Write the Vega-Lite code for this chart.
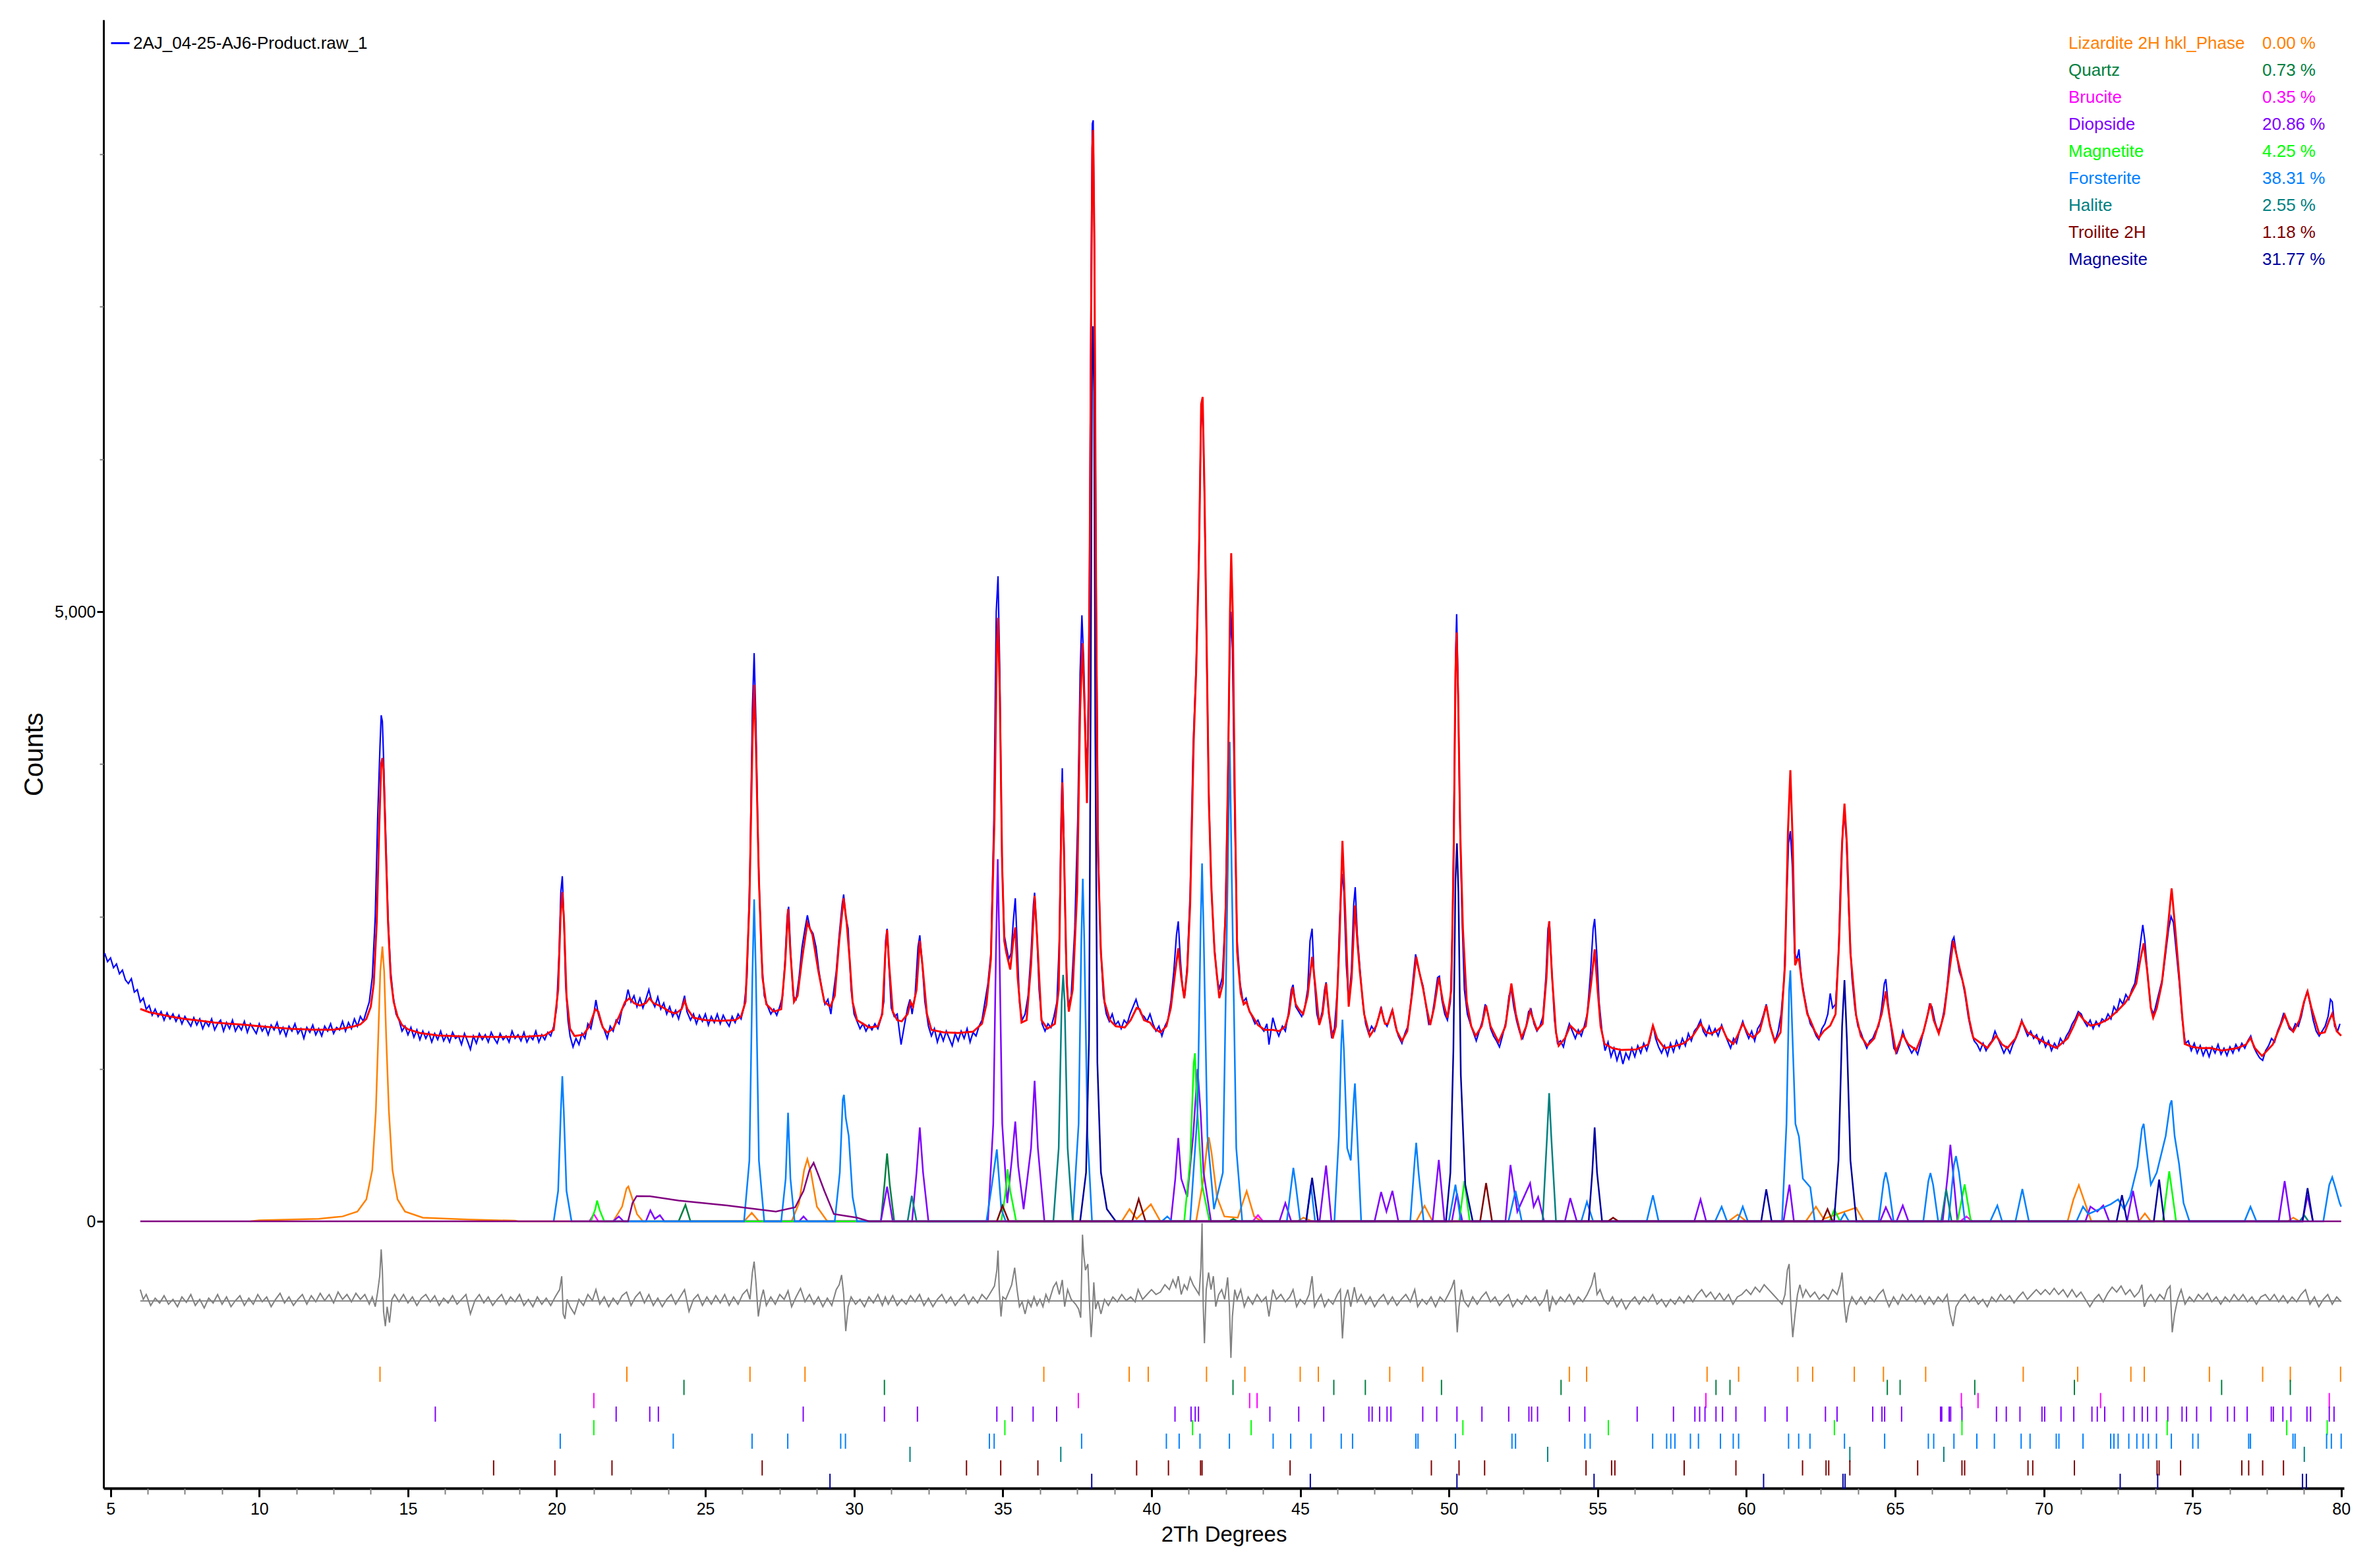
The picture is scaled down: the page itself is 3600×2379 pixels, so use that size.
{
"$schema":"https://vega.github.io/schema/vega-lite/v6.json",
"width":3399,"height":2228,
"autosize":{"type":"none"},
"padding":{"left":157,"top":30,"right":44,"bottom":121},
"background":"#ffffff",
"config":{"view":{"stroke":null},"font":"Liberation Sans, Arial, sans-serif",
"axis":{"labelFont":"Liberation Sans, Arial, sans-serif","titleFont":"Liberation Sans, Arial, sans-serif","labelColor":"#000000","titleColor":"#000000","titleFontWeight":"normal","grid":false},
"legend":{"labelFont":"Liberation Sans, Arial, sans-serif"}},
"datasets":{
"obs":[{"x":4.8,"y":2200},{"x":4.9,"y":2130},{"x":5,"y":2160},{"x":5.1,"y":2080},{"x":5.2,"y":2110},{"x":5.3,"y":2030},{"x":5.4,"y":2060},{"x":5.5,"y":1980},{"x":5.6,"y":1950},{"x":5.7,"y":1990},{"x":5.8,"y":1880},{"x":5.9,"y":1900},{"x":6,"y":1800},{"x":6.1,"y":1830},{"x":6.2,"y":1740},{"x":6.3,"y":1770},{"x":6.4,"y":1690},{"x":6.5,"y":1740},{"x":6.6,"y":1680},{"x":6.7,"y":1720},{"x":6.8,"y":1650},{"x":6.9,"y":1710},{"x":7,"y":1660},{"x":7.1,"y":1700},{"x":7.2,"y":1640},{"x":7.3,"y":1690},{"x":7.4,"y":1620},{"x":7.5,"y":1680},{"x":7.6,"y":1640},{"x":7.7,"y":1600},{"x":7.8,"y":1670},{"x":7.9,"y":1610},{"x":8,"y":1660},{"x":8.1,"y":1580},{"x":8.2,"y":1640},{"x":8.3,"y":1600},{"x":8.4,"y":1660},{"x":8.5,"y":1570},{"x":8.6,"y":1620},{"x":8.7,"y":1650},{"x":8.8,"y":1560},{"x":8.9,"y":1630},{"x":9,"y":1580},{"x":9.1,"y":1650},{"x":9.2,"y":1560},{"x":9.3,"y":1610},{"x":9.4,"y":1570},{"x":9.5,"y":1640},{"x":9.6,"y":1550},{"x":9.7,"y":1620},{"x":9.8,"y":1580},{"x":9.9,"y":1540},{"x":10,"y":1620},{"x":10.1,"y":1560},{"x":10.2,"y":1600},{"x":10.3,"y":1530},{"x":10.4,"y":1610},{"x":10.5,"y":1570},{"x":10.6,"y":1630},{"x":10.7,"y":1540},{"x":10.8,"y":1590},{"x":10.9,"y":1520},{"x":11,"y":1600},{"x":11.1,"y":1560},{"x":11.2,"y":1620},{"x":11.3,"y":1540},{"x":11.4,"y":1580},{"x":11.5,"y":1500},{"x":11.6,"y":1590},{"x":11.7,"y":1550},{"x":11.8,"y":1610},{"x":11.9,"y":1530},{"x":12,"y":1580},{"x":12.1,"y":1520},{"x":12.2,"y":1600},{"x":12.3,"y":1560},{"x":12.4,"y":1620},{"x":12.5,"y":1540},{"x":12.6,"y":1590},{"x":12.7,"y":1570},{"x":12.8,"y":1640},{"x":12.9,"y":1560},{"x":13,"y":1630},{"x":13.1,"y":1580},{"x":13.2,"y":1660},{"x":13.3,"y":1600},{"x":13.4,"y":1680},{"x":13.5,"y":1640},{"x":13.6,"y":1720},{"x":13.7,"y":1800},{"x":13.8,"y":2000},{"x":13.9,"y":2500},{"x":13.98,"y":3300},{"x":14.06,"y":3900},{"x":14.1,"y":4150},{"x":14.14,"y":4100},{"x":14.18,"y":3800},{"x":14.25,"y":3200},{"x":14.33,"y":2500},{"x":14.42,"y":2050},{"x":14.5,"y":1850},{"x":14.6,"y":1700},{"x":14.7,"y":1650},{"x":14.8,"y":1560},{"x":14.9,"y":1600},{"x":15,"y":1530},{"x":15.1,"y":1590},{"x":15.2,"y":1510},{"x":15.3,"y":1570},{"x":15.4,"y":1490},{"x":15.5,"y":1560},{"x":15.6,"y":1500},{"x":15.7,"y":1550},{"x":15.8,"y":1470},{"x":15.9,"y":1540},{"x":16,"y":1490},{"x":16.1,"y":1560},{"x":16.2,"y":1480},{"x":16.3,"y":1530},{"x":16.4,"y":1470},{"x":16.5,"y":1550},{"x":16.6,"y":1500},{"x":16.7,"y":1520},{"x":16.8,"y":1450},{"x":16.9,"y":1540},{"x":17,"y":1480},{"x":17.1,"y":1410},{"x":17.2,"y":1520},{"x":17.3,"y":1460},{"x":17.4,"y":1540},{"x":17.5,"y":1490},{"x":17.6,"y":1530},{"x":17.7,"y":1470},{"x":17.8,"y":1550},{"x":17.9,"y":1500},{"x":18,"y":1460},{"x":18.1,"y":1540},{"x":18.2,"y":1490},{"x":18.3,"y":1520},{"x":18.4,"y":1470},{"x":18.5,"y":1560},{"x":18.6,"y":1500},{"x":18.7,"y":1530},{"x":18.8,"y":1480},{"x":18.9,"y":1550},{"x":19,"y":1470},{"x":19.1,"y":1520},{"x":19.2,"y":1490},{"x":19.3,"y":1560},{"x":19.4,"y":1470},{"x":19.5,"y":1530},{"x":19.6,"y":1490},{"x":19.7,"y":1550},{"x":19.8,"y":1520},{"x":19.9,"y":1600},{"x":20,"y":1750},{"x":20.08,"y":2200},{"x":20.14,"y":2700},{"x":20.19,"y":2830},{"x":20.24,"y":2500},{"x":20.3,"y":1950},{"x":20.38,"y":1650},{"x":20.45,"y":1520},{"x":20.55,"y":1430},{"x":20.65,"y":1500},{"x":20.75,"y":1450},{"x":20.85,"y":1540},{"x":20.95,"y":1500},{"x":21.05,"y":1620},{"x":21.15,"y":1580},{"x":21.25,"y":1700},{"x":21.32,"y":1816},{"x":21.4,"y":1700},{"x":21.5,"y":1620},{"x":21.6,"y":1570},{"x":21.7,"y":1500},{"x":21.8,"y":1600},{"x":21.9,"y":1560},{"x":22,"y":1650},{"x":22.1,"y":1620},{"x":22.2,"y":1740},{"x":22.3,"y":1780},{"x":22.4,"y":1900},{"x":22.5,"y":1800},{"x":22.6,"y":1850},{"x":22.7,"y":1760},{"x":22.8,"y":1830},{"x":22.9,"y":1750},{"x":23,"y":1820},{"x":23.1,"y":1900},{"x":23.18,"y":1820},{"x":23.3,"y":1760},{"x":23.4,"y":1840},{"x":23.5,"y":1740},{"x":23.6,"y":1790},{"x":23.7,"y":1700},{"x":23.8,"y":1760},{"x":23.9,"y":1680},{"x":24,"y":1730},{"x":24.1,"y":1660},{"x":24.2,"y":1750},{"x":24.3,"y":1850},{"x":24.38,"y":1720},{"x":24.5,"y":1650},{"x":24.6,"y":1700},{"x":24.7,"y":1620},{"x":24.8,"y":1690},{"x":24.9,"y":1640},{"x":25,"y":1700},{"x":25.1,"y":1610},{"x":25.2,"y":1680},{"x":25.3,"y":1630},{"x":25.4,"y":1700},{"x":25.5,"y":1620},{"x":25.6,"y":1690},{"x":25.7,"y":1640},{"x":25.8,"y":1600},{"x":25.9,"y":1680},{"x":26,"y":1630},{"x":26.1,"y":1700},{"x":26.2,"y":1660},{"x":26.3,"y":1760},{"x":26.4,"y":2000},{"x":26.5,"y":2900},{"x":26.58,"y":4200},{"x":26.64,"y":4660},{"x":26.7,"y":4100},{"x":26.78,"y":3000},{"x":26.88,"y":2200},{"x":26.98,"y":1850},{"x":27.1,"y":1760},{"x":27.2,"y":1700},{"x":27.3,"y":1740},{"x":27.4,"y":1690},{"x":27.5,"y":1760},{"x":27.6,"y":1850},{"x":27.68,"y":2150},{"x":27.75,"y":2500},{"x":27.8,"y":2580},{"x":27.86,"y":2250},{"x":27.95,"y":1850},{"x":28.05,"y":1820},{"x":28.15,"y":2000},{"x":28.25,"y":2250},{"x":28.35,"y":2400},{"x":28.43,"y":2510},{"x":28.52,"y":2400},{"x":28.62,"y":2360},{"x":28.72,"y":2250},{"x":28.82,"y":2050},{"x":28.92,"y":1900},{"x":29.02,"y":1780},{"x":29.12,"y":1820},{"x":29.22,"y":1700},{"x":29.3,"y":1860},{"x":29.4,"y":2050},{"x":29.5,"y":2350},{"x":29.6,"y":2600},{"x":29.65,"y":2680},{"x":29.72,"y":2500},{"x":29.8,"y":2400},{"x":29.9,"y":1900},{"x":30,"y":1700},{"x":30.1,"y":1640},{"x":30.2,"y":1580},{"x":30.3,"y":1620},{"x":30.4,"y":1560},{"x":30.5,"y":1610},{"x":30.6,"y":1570},{"x":30.7,"y":1620},{"x":30.8,"y":1580},{"x":30.9,"y":1660},{"x":31,"y":1800},{"x":31.06,"y":2300},{"x":31.11,"y":2400},{"x":31.16,"y":2150},{"x":31.25,"y":1750},{"x":31.35,"y":1680},{"x":31.45,"y":1700},{"x":31.58,"y":1450},{"x":31.7,"y":1620},{"x":31.8,"y":1750},{"x":31.88,"y":1820},{"x":31.95,"y":1700},{"x":32.05,"y":1850},{"x":32.15,"y":2250},{"x":32.21,"y":2345},{"x":32.28,"y":2150},{"x":32.38,"y":1800},{"x":32.5,"y":1600},{"x":32.6,"y":1520},{"x":32.7,"y":1580},{"x":32.8,"y":1470},{"x":32.9,"y":1550},{"x":33,"y":1480},{"x":33.1,"y":1560},{"x":33.2,"y":1500},{"x":33.3,"y":1440},{"x":33.4,"y":1540},{"x":33.5,"y":1480},{"x":33.6,"y":1560},{"x":33.7,"y":1500},{"x":33.8,"y":1580},{"x":33.9,"y":1470},{"x":34,"y":1550},{"x":34.1,"y":1520},{"x":34.2,"y":1600},{"x":34.3,"y":1650},{"x":34.4,"y":1800},{"x":34.5,"y":1950},{"x":34.6,"y":2200},{"x":34.7,"y":3300},{"x":34.78,"y":5000},{"x":34.84,"y":5290},{"x":34.9,"y":4500},{"x":34.97,"y":3000},{"x":35.05,"y":2350},{"x":35.12,"y":2250},{"x":35.2,"y":2150},{"x":35.28,"y":2200},{"x":35.35,"y":2450},{"x":35.42,"y":2650},{"x":35.48,"y":2300},{"x":35.56,"y":1800},{"x":35.65,"y":1650},{"x":35.75,"y":1700},{"x":35.85,"y":1850},{"x":35.95,"y":2200},{"x":36.03,"y":2600},{"x":36.07,"y":2695},{"x":36.14,"y":2400},{"x":36.22,"y":1900},{"x":36.32,"y":1620},{"x":36.42,"y":1560},{"x":36.52,"y":1620},{"x":36.62,"y":1590},{"x":36.72,"y":1680},{"x":36.82,"y":1800},{"x":36.9,"y":2300},{"x":36.96,"y":3300},{"x":37,"y":3716},{"x":37.05,"y":3200},{"x":37.12,"y":2200},{"x":37.2,"y":1760},{"x":37.3,"y":1850},{"x":37.42,"y":2400},{"x":37.52,"y":3300},{"x":37.6,"y":4500},{"x":37.66,"y":4970},{"x":37.72,"y":4600},{"x":37.8,"y":3800},{"x":37.86,"y":3900},{"x":37.92,"y":5500},{"x":37.97,"y":7800},{"x":38.01,"y":9000},{"x":38.04,"y":9030},{"x":38.08,"y":8000},{"x":38.13,"y":5500},{"x":38.2,"y":3200},{"x":38.28,"y":2300},{"x":38.38,"y":1850},{"x":38.48,"y":1700},{"x":38.58,"y":1640},{"x":38.68,"y":1700},{"x":38.78,"y":1610},{"x":38.88,"y":1640},{"x":38.98,"y":1580},{"x":39.08,"y":1650},{"x":39.18,"y":1620},{"x":39.28,"y":1700},{"x":39.38,"y":1760},{"x":39.48,"y":1820},{"x":39.55,"y":1760},{"x":39.65,"y":1700},{"x":39.75,"y":1680},{"x":39.85,"y":1640},{"x":39.95,"y":1700},{"x":40.05,"y":1620},{"x":40.15,"y":1560},{"x":40.25,"y":1600},{"x":40.35,"y":1520},{"x":40.45,"y":1600},{"x":40.55,"y":1650},{"x":40.65,"y":1800},{"x":40.75,"y":2050},{"x":40.84,"y":2350},{"x":40.9,"y":2460},{"x":40.97,"y":2150},{"x":41.05,"y":1900},{"x":41.12,"y":1850},{"x":41.2,"y":2100},{"x":41.3,"y":2700},{"x":41.4,"y":3900},{"x":41.5,"y":4550},{"x":41.58,"y":5300},{"x":41.66,"y":6500},{"x":41.71,"y":6740},{"x":41.77,"y":6100},{"x":41.84,"y":4900},{"x":41.92,"y":3600},{"x":42,"y":2800},{"x":42.1,"y":2300},{"x":42.2,"y":2000},{"x":42.28,"y":1900},{"x":42.38,"y":2000},{"x":42.48,"y":2500},{"x":42.56,"y":3500},{"x":42.62,"y":4500},{"x":42.67,"y":5000},{"x":42.72,"y":4700},{"x":42.8,"y":3300},{"x":42.88,"y":2300},{"x":42.98,"y":1950},{"x":43.08,"y":1800},{"x":43.18,"y":1830},{"x":43.28,"y":1730},{"x":43.38,"y":1680},{"x":43.48,"y":1620},{"x":43.58,"y":1650},{"x":43.68,"y":1590},{"x":43.78,"y":1560},{"x":43.88,"y":1620},{"x":43.95,"y":1450},{"x":44.08,"y":1670},{"x":44.18,"y":1580},{"x":44.28,"y":1520},{"x":44.4,"y":1600},{"x":44.5,"y":1560},{"x":44.6,"y":1700},{"x":44.7,"y":1900},{"x":44.76,"y":1940},{"x":44.85,"y":1760},{"x":44.95,"y":1720},{"x":45.05,"y":1680},{"x":45.15,"y":1750},{"x":45.25,"y":1900},{"x":45.33,"y":2300},{"x":45.4,"y":2400},{"x":45.47,"y":2000},{"x":45.56,"y":1700},{"x":45.64,"y":1620},{"x":45.74,"y":1720},{"x":45.82,"y":1900},{"x":45.87,"y":1960},{"x":45.95,"y":1720},{"x":46.05,"y":1520},{"x":46.15,"y":1580},{"x":46.25,"y":1900},{"x":46.33,"y":2500},{"x":46.4,"y":2850},{"x":46.47,"y":2700},{"x":46.55,"y":2100},{"x":46.63,"y":1800},{"x":46.72,"y":2050},{"x":46.8,"y":2600},{"x":46.85,"y":2740},{"x":46.92,"y":2350},{"x":47,"y":2100},{"x":47.1,"y":1800},{"x":47.2,"y":1620},{"x":47.3,"y":1540},{"x":47.4,"y":1600},{"x":47.5,"y":1560},{"x":47.6,"y":1640},{"x":47.72,"y":1760},{"x":47.82,"y":1640},{"x":47.92,"y":1600},{"x":48.02,"y":1680},{"x":48.1,"y":1740},{"x":48.2,"y":1600},{"x":48.3,"y":1520},{"x":48.42,"y":1460},{"x":48.52,"y":1540},{"x":48.62,"y":1600},{"x":48.72,"y":1800},{"x":48.8,"y":2000},{"x":48.88,"y":2190},{"x":48.95,"y":2100},{"x":49.05,"y":2000},{"x":49.13,"y":1930},{"x":49.22,"y":1780},{"x":49.32,"y":1620},{"x":49.42,"y":1660},{"x":49.52,"y":1820},{"x":49.62,"y":2000},{"x":49.68,"y":2010},{"x":49.76,"y":1820},{"x":49.86,"y":1700},{"x":49.95,"y":1650},{"x":50.05,"y":1800},{"x":50.12,"y":2400},{"x":50.18,"y":3600},{"x":50.23,"y":4700},{"x":50.26,"y":4980},{"x":50.3,"y":4500},{"x":50.36,"y":3400},{"x":50.44,"y":2500},{"x":50.52,"y":1900},{"x":50.62,"y":1700},{"x":50.72,"y":1620},{"x":50.82,"y":1550},{"x":50.92,"y":1480},{"x":51.02,"y":1560},{"x":51.12,"y":1640},{"x":51.22,"y":1780},{"x":51.3,"y":1720},{"x":51.4,"y":1580},{"x":51.5,"y":1520},{"x":51.6,"y":1480},{"x":51.7,"y":1430},{"x":51.8,"y":1520},{"x":51.92,"y":1640},{"x":52.02,"y":1850},{"x":52.1,"y":1900},{"x":52.18,"y":1760},{"x":52.28,"y":1640},{"x":52.38,"y":1550},{"x":52.48,"y":1500},{"x":52.58,"y":1580},{"x":52.68,"y":1720},{"x":52.76,"y":1740},{"x":52.86,"y":1620},{"x":52.96,"y":1560},{"x":53.06,"y":1600},{"x":53.16,"y":1680},{"x":53.26,"y":2000},{"x":53.33,"y":2400},{"x":53.38,"y":2460},{"x":53.45,"y":2100},{"x":53.55,"y":1650},{"x":53.65,"y":1460},{"x":53.75,"y":1480},{"x":53.85,"y":1430},{"x":53.95,"y":1540},{"x":54.05,"y":1620},{"x":54.15,"y":1560},{"x":54.25,"y":1500},{"x":54.35,"y":1570},{"x":54.45,"y":1520},{"x":54.55,"y":1600},{"x":54.65,"y":1700},{"x":54.75,"y":2000},{"x":54.85,"y":2400},{"x":54.9,"y":2480},{"x":54.97,"y":2200},{"x":55.05,"y":1800},{"x":55.15,"y":1550},{"x":55.25,"y":1400},{"x":55.35,"y":1470},{"x":55.45,"y":1350},{"x":55.55,"y":1420},{"x":55.65,"y":1320},{"x":55.75,"y":1400},{"x":55.85,"y":1290},{"x":55.95,"y":1380},{"x":56.05,"y":1330},{"x":56.15,"y":1420},{"x":56.25,"y":1350},{"x":56.35,"y":1440},{"x":56.45,"y":1380},{"x":56.55,"y":1460},{"x":56.65,"y":1400},{"x":56.75,"y":1480},{"x":56.86,"y":1610},{"x":56.95,"y":1500},{"x":57.05,"y":1430},{"x":57.15,"y":1380},{"x":57.25,"y":1440},{"x":57.35,"y":1360},{"x":57.45,"y":1460},{"x":57.55,"y":1390},{"x":57.65,"y":1480},{"x":57.75,"y":1420},{"x":57.85,"y":1500},{"x":57.95,"y":1440},{"x":58.05,"y":1540},{"x":58.15,"y":1480},{"x":58.25,"y":1560},{"x":58.35,"y":1590},{"x":58.46,"y":1650},{"x":58.55,"y":1560},{"x":58.65,"y":1520},{"x":58.75,"y":1600},{"x":58.85,"y":1530},{"x":58.95,"y":1580},{"x":59.05,"y":1520},{"x":59.17,"y":1610},{"x":59.27,"y":1540},{"x":59.37,"y":1480},{"x":59.47,"y":1420},{"x":59.57,"y":1500},{"x":59.67,"y":1460},{"x":59.77,"y":1560},{"x":59.88,"y":1640},{"x":59.98,"y":1560},{"x":60.08,"y":1500},{"x":60.18,"y":1560},{"x":60.28,"y":1480},{"x":60.38,"y":1580},{"x":60.48,"y":1620},{"x":60.58,"y":1700},{"x":60.67,"y":1780},{"x":60.77,"y":1640},{"x":60.87,"y":1540},{"x":60.97,"y":1480},{"x":61.07,"y":1560},{"x":61.17,"y":1700},{"x":61.27,"y":2000},{"x":61.35,"y":2600},{"x":61.42,"y":3100},{"x":61.48,"y":3200},{"x":61.55,"y":2900},{"x":61.62,"y":2200},{"x":61.7,"y":2150},{"x":61.77,"y":2230},{"x":61.85,"y":2000},{"x":61.95,"y":1850},{"x":62.05,"y":1720},{"x":62.15,"y":1620},{"x":62.25,"y":1580},{"x":62.35,"y":1520},{"x":62.44,"y":1490},{"x":62.54,"y":1580},{"x":62.64,"y":1620},{"x":62.74,"y":1700},{"x":62.82,"y":1870},{"x":62.9,"y":1750},{"x":63,"y":1780},{"x":63.1,"y":2200},{"x":63.18,"y":2900},{"x":63.25,"y":3250},{"x":63.3,"y":3330},{"x":63.36,"y":3150},{"x":63.45,"y":2500},{"x":63.55,"y":2000},{"x":63.65,"y":1750},{"x":63.75,"y":1600},{"x":63.85,"y":1550},{"x":63.95,"y":1480},{"x":64.05,"y":1420},{"x":64.15,"y":1480},{"x":64.25,"y":1500},{"x":64.35,"y":1560},{"x":64.45,"y":1600},{"x":64.55,"y":1750},{"x":64.64,"y":1950},{"x":64.69,"y":1986},{"x":64.76,"y":1800},{"x":64.86,"y":1600},{"x":64.96,"y":1420},{"x":65.06,"y":1380},{"x":65.16,"y":1450},{"x":65.26,"y":1560},{"x":65.36,"y":1480},{"x":65.46,"y":1430},{"x":65.56,"y":1380},{"x":65.66,"y":1420},{"x":65.76,"y":1370},{"x":65.86,"y":1460},{"x":65.96,"y":1560},{"x":66.06,"y":1650},{"x":66.16,"y":1780},{"x":66.24,"y":1760},{"x":66.34,"y":1640},{"x":66.44,"y":1560},{"x":66.54,"y":1600},{"x":66.64,"y":1720},{"x":66.74,"y":1900},{"x":66.84,"y":2150},{"x":66.92,"y":2300},{"x":66.98,"y":2330},{"x":67.06,"y":2200},{"x":67.16,"y":2050},{"x":67.26,"y":1980},{"x":67.36,"y":1850},{"x":67.46,"y":1680},{"x":67.56,"y":1560},{"x":67.66,"y":1480},{"x":67.76,"y":1450},{"x":67.86,"y":1400},{"x":67.96,"y":1460},{"x":68.06,"y":1400},{"x":68.16,"y":1450},{"x":68.26,"y":1480},{"x":68.36,"y":1560},{"x":68.46,"y":1500},{"x":68.56,"y":1440},{"x":68.66,"y":1380},{"x":68.76,"y":1430},{"x":68.86,"y":1380},{"x":68.96,"y":1450},{"x":69.06,"y":1500},{"x":69.16,"y":1560},{"x":69.26,"y":1650},{"x":69.36,"y":1580},{"x":69.46,"y":1520},{"x":69.56,"y":1560},{"x":69.66,"y":1500},{"x":69.76,"y":1530},{"x":69.86,"y":1460},{"x":69.96,"y":1510},{"x":70.06,"y":1430},{"x":70.16,"y":1480},{"x":70.26,"y":1400},{"x":70.36,"y":1460},{"x":70.46,"y":1420},{"x":70.56,"y":1500},{"x":70.66,"y":1460},{"x":70.76,"y":1520},{"x":70.86,"y":1560},{"x":70.96,"y":1620},{"x":71.06,"y":1660},{"x":71.16,"y":1720},{"x":71.26,"y":1700},{"x":71.36,"y":1640},{"x":71.46,"y":1600},{"x":71.56,"y":1650},{"x":71.66,"y":1580},{"x":71.76,"y":1640},{"x":71.86,"y":1600},{"x":71.96,"y":1660},{"x":72.06,"y":1640},{"x":72.16,"y":1700},{"x":72.26,"y":1660},{"x":72.36,"y":1760},{"x":72.46,"y":1720},{"x":72.56,"y":1820},{"x":72.66,"y":1780},{"x":72.76,"y":1860},{"x":72.86,"y":1820},{"x":72.96,"y":1900},{"x":73.06,"y":1950},{"x":73.16,"y":2100},{"x":73.26,"y":2300},{"x":73.33,"y":2430},{"x":73.4,"y":2300},{"x":73.5,"y":2000},{"x":73.6,"y":1750},{"x":73.7,"y":1700},{"x":73.8,"y":1800},{"x":73.9,"y":1900},{"x":74,"y":2000},{"x":74.1,"y":2200},{"x":74.2,"y":2400},{"x":74.28,"y":2500},{"x":74.36,"y":2450},{"x":74.46,"y":2200},{"x":74.56,"y":1950},{"x":74.66,"y":1650},{"x":74.76,"y":1460},{"x":74.86,"y":1480},{"x":74.96,"y":1400},{"x":75.06,"y":1460},{"x":75.16,"y":1380},{"x":75.26,"y":1440},{"x":75.36,"y":1360},{"x":75.46,"y":1420},{"x":75.56,"y":1350},{"x":75.66,"y":1430},{"x":75.76,"y":1380},{"x":75.86,"y":1450},{"x":75.96,"y":1370},{"x":76.06,"y":1420},{"x":76.16,"y":1360},{"x":76.26,"y":1430},{"x":76.36,"y":1380},{"x":76.46,"y":1450},{"x":76.56,"y":1400},{"x":76.66,"y":1460},{"x":76.76,"y":1420},{"x":76.86,"y":1480},{"x":76.96,"y":1520},{"x":77.06,"y":1430},{"x":77.16,"y":1380},{"x":77.26,"y":1340},{"x":77.36,"y":1320},{"x":77.46,"y":1400},{"x":77.56,"y":1440},{"x":77.66,"y":1500},{"x":77.76,"y":1470},{"x":77.86,"y":1560},{"x":77.96,"y":1620},{"x":78.06,"y":1700},{"x":78.16,"y":1650},{"x":78.26,"y":1580},{"x":78.36,"y":1560},{"x":78.46,"y":1620},{"x":78.56,"y":1600},{"x":78.66,"y":1680},{"x":78.76,"y":1800},{"x":78.86,"y":1890},{"x":78.96,"y":1780},{"x":79.06,"y":1650},{"x":79.16,"y":1560},{"x":79.26,"y":1520},{"x":79.36,"y":1560},{"x":79.46,"y":1600},{"x":79.56,"y":1680},{"x":79.64,"y":1820},{"x":79.7,"y":1800},{"x":79.78,"y":1600},{"x":79.88,"y":1560},{"x":79.96,"y":1620}],
"calc":[{"x":6,"y":1742},{"x":6.3,"y":1715},{"x":6.6,"y":1700},{"x":7,"y":1680},{"x":7.5,"y":1660},{"x":7.86,"y":1650},{"x":8.5,"y":1630},{"x":9,"y":1620},{"x":9.5,"y":1612},{"x":10,"y":1600},{"x":10.5,"y":1590},{"x":11.1,"y":1578},{"x":11.8,"y":1572},{"x":12.5,"y":1572},{"x":12.9,"y":1585},{"x":13.2,"y":1600},{"x":13.4,"y":1615},{"x":13.6,"y":1660},{"x":13.75,"y":1760},{"x":13.85,"y":1950},{"x":13.95,"y":2450},{"x":14.03,"y":3200},{"x":14.1,"y":3750},{"x":14.14,"y":3800},{"x":14.18,"y":3700},{"x":14.25,"y":3100},{"x":14.33,"y":2450},{"x":14.42,"y":2000},{"x":14.52,"y":1800},{"x":14.65,"y":1680},{"x":14.8,"y":1610},{"x":15,"y":1575},{"x":15.4,"y":1545},{"x":16,"y":1525},{"x":17,"y":1515},{"x":18,"y":1512},{"x":19,"y":1515},{"x":19.6,"y":1525},{"x":19.9,"y":1570},{"x":20.05,"y":1900},{"x":20.13,"y":2500},{"x":20.19,"y":2700},{"x":20.25,"y":2450},{"x":20.33,"y":1850},{"x":20.45,"y":1580},{"x":20.6,"y":1520},{"x":20.9,"y":1530},{"x":21.1,"y":1600},{"x":21.3,"y":1740},{"x":21.4,"y":1720},{"x":21.55,"y":1590},{"x":21.7,"y":1548},{"x":21.9,"y":1580},{"x":22.1,"y":1680},{"x":22.3,"y":1800},{"x":22.45,"y":1830},{"x":22.6,"y":1790},{"x":22.8,"y":1770},{"x":23,"y":1790},{"x":23.12,"y":1830},{"x":23.25,"y":1790},{"x":23.45,"y":1770},{"x":23.6,"y":1750},{"x":23.8,"y":1720},{"x":24,"y":1705},{"x":24.2,"y":1740},{"x":24.3,"y":1810},{"x":24.4,"y":1740},{"x":24.6,"y":1670},{"x":25,"y":1650},{"x":25.5,"y":1645},{"x":26,"y":1650},{"x":26.2,"y":1680},{"x":26.35,"y":1800},{"x":26.48,"y":2600},{"x":26.58,"y":3900},{"x":26.64,"y":4400},{"x":26.7,"y":3900},{"x":26.8,"y":2800},{"x":26.92,"y":2000},{"x":27.05,"y":1780},{"x":27.3,"y":1720},{"x":27.55,"y":1740},{"x":27.68,"y":2100},{"x":27.78,"y":2560},{"x":27.86,"y":2200},{"x":27.98,"y":1800},{"x":28.1,"y":1850},{"x":28.25,"y":2150},{"x":28.43,"y":2450},{"x":28.6,"y":2350},{"x":28.8,"y":2050},{"x":29,"y":1800},{"x":29.2,"y":1760},{"x":29.35,"y":1850},{"x":29.5,"y":2300},{"x":29.65,"y":2650},{"x":29.75,"y":2450},{"x":29.85,"y":2150},{"x":29.95,"y":1800},{"x":30.1,"y":1650},{"x":30.5,"y":1590},{"x":30.8,"y":1600},{"x":30.95,"y":1700},{"x":31.05,"y":2200},{"x":31.11,"y":2390},{"x":31.18,"y":2100},{"x":31.3,"y":1720},{"x":31.45,"y":1650},{"x":31.6,"y":1640},{"x":31.8,"y":1700},{"x":31.9,"y":1800},{"x":31.98,"y":1760},{"x":32.1,"y":1900},{"x":32.21,"y":2300},{"x":32.3,"y":2100},{"x":32.45,"y":1700},{"x":32.6,"y":1570},{"x":33,"y":1550},{"x":33.5,"y":1545},{"x":34,"y":1555},{"x":34.3,"y":1620},{"x":34.45,"y":1780},{"x":34.6,"y":2150},{"x":34.72,"y":3300},{"x":34.8,"y":4700},{"x":34.84,"y":4950},{"x":34.9,"y":4300},{"x":34.98,"y":2900},{"x":35.05,"y":2300},{"x":35.12,"y":2200},{"x":35.25,"y":2065},{"x":35.35,"y":2300},{"x":35.42,"y":2410},{"x":35.5,"y":2000},{"x":35.63,"y":1630},{"x":35.8,"y":1650},{"x":35.95,"y":2100},{"x":36.07,"y":2670},{"x":36.16,"y":2300},{"x":36.3,"y":1650},{"x":36.5,"y":1580},{"x":36.75,"y":1620},{"x":36.88,"y":1900},{"x":36.95,"y":3000},{"x":37,"y":3600},{"x":37.06,"y":3000},{"x":37.15,"y":1950},{"x":37.22,"y":1720},{"x":37.35,"y":1900},{"x":37.5,"y":2700},{"x":37.6,"y":4200},{"x":37.68,"y":4740},{"x":37.75,"y":4200},{"x":37.83,"y":3430},{"x":37.9,"y":4500},{"x":37.96,"y":7000},{"x":38.01,"y":8800},{"x":38.04,"y":8950},{"x":38.08,"y":8000},{"x":38.14,"y":5000},{"x":38.2,"y":3000},{"x":38.3,"y":2200},{"x":38.42,"y":1800},{"x":38.6,"y":1650},{"x":38.8,"y":1600},{"x":39.1,"y":1590},{"x":39.3,"y":1650},{"x":39.5,"y":1750},{"x":39.6,"y":1740},{"x":39.75,"y":1650},{"x":39.95,"y":1630},{"x":40.1,"y":1580},{"x":40.3,"y":1550},{"x":40.5,"y":1600},{"x":40.65,"y":1750},{"x":40.8,"y":2050},{"x":40.9,"y":2240},{"x":41,"y":2000},{"x":41.1,"y":1830},{"x":41.2,"y":2050},{"x":41.3,"y":2600},{"x":41.42,"y":3950},{"x":41.5,"y":4500},{"x":41.6,"y":5500},{"x":41.67,"y":6700},{"x":41.72,"y":6760},{"x":41.78,"y":6000},{"x":41.85,"y":4800},{"x":41.93,"y":3430},{"x":42.02,"y":2700},{"x":42.12,"y":2210},{"x":42.28,"y":1830},{"x":42.4,"y":1950},{"x":42.5,"y":2600},{"x":42.58,"y":3800},{"x":42.64,"y":5000},{"x":42.68,"y":5480},{"x":42.73,"y":5000},{"x":42.8,"y":3500},{"x":42.88,"y":2210},{"x":43,"y":1870},{"x":43.1,"y":1780},{"x":43.19,"y":1800},{"x":43.3,"y":1720},{"x":43.58,"y":1610},{"x":43.8,"y":1570},{"x":44.08,"y":1570},{"x":44.3,"y":1560},{"x":44.5,"y":1600},{"x":44.62,"y":1700},{"x":44.74,"y":1920},{"x":44.85,"y":1780},{"x":44.95,"y":1740},{"x":45.1,"y":1700},{"x":45.25,"y":1850},{"x":45.4,"y":2170},{"x":45.5,"y":1950},{"x":45.64,"y":1610},{"x":45.75,"y":1700},{"x":45.87,"y":1950},{"x":45.97,"y":1700},{"x":46.09,"y":1500},{"x":46.2,"y":1600},{"x":46.32,"y":2300},{"x":46.42,"y":3120},{"x":46.52,"y":2500},{"x":46.63,"y":1760},{"x":46.73,"y":2000},{"x":46.84,"y":2590},{"x":46.92,"y":2300},{"x":47,"y":2060},{"x":47.15,"y":1700},{"x":47.34,"y":1520},{"x":47.55,"y":1600},{"x":47.72,"y":1740},{"x":47.85,"y":1620},{"x":47.95,"y":1620},{"x":48.1,"y":1730},{"x":48.25,"y":1560},{"x":48.42,"y":1480},{"x":48.6,"y":1560},{"x":48.78,"y":1900},{"x":48.9,"y":2170},{"x":49,"y":2050},{"x":49.13,"y":1910},{"x":49.25,"y":1750},{"x":49.37,"y":1610},{"x":49.5,"y":1750},{"x":49.66,"y":2000},{"x":49.8,"y":1800},{"x":49.95,"y":1670},{"x":50.08,"y":1900},{"x":50.16,"y":3000},{"x":50.22,"y":4500},{"x":50.26,"y":4830},{"x":50.31,"y":4300},{"x":50.38,"y":3200},{"x":50.47,"y":2400},{"x":50.6,"y":1800},{"x":50.75,"y":1600},{"x":50.9,"y":1520},{"x":51.1,"y":1600},{"x":51.25,"y":1770},{"x":51.4,"y":1600},{"x":51.67,"y":1470},{"x":51.9,"y":1600},{"x":52.1,"y":1950},{"x":52.25,"y":1700},{"x":52.44,"y":1505},{"x":52.6,"y":1600},{"x":52.73,"y":1730},{"x":52.96,"y":1570},{"x":53.15,"y":1620},{"x":53.28,"y":2000},{"x":53.37,"y":2460},{"x":53.47,"y":2000},{"x":53.6,"y":1550},{"x":53.69,"y":1440},{"x":53.9,"y":1500},{"x":54.08,"y":1605},{"x":54.36,"y":1540},{"x":54.6,"y":1600},{"x":54.78,"y":1950},{"x":54.9,"y":2230},{"x":55,"y":1900},{"x":55.1,"y":1600},{"x":55.23,"y":1455},{"x":55.5,"y":1420},{"x":55.81,"y":1405},{"x":56.3,"y":1410},{"x":56.7,"y":1450},{"x":56.86,"y":1605},{"x":57,"y":1500},{"x":57.25,"y":1420},{"x":57.63,"y":1440},{"x":57.9,"y":1460},{"x":58.2,"y":1520},{"x":58.46,"y":1620},{"x":58.65,"y":1550},{"x":58.79,"y":1540},{"x":59,"y":1560},{"x":59.17,"y":1595},{"x":59.35,"y":1500},{"x":59.56,"y":1455},{"x":59.7,"y":1520},{"x":59.88,"y":1622},{"x":60.05,"y":1540},{"x":60.23,"y":1505},{"x":60.45,"y":1560},{"x":60.67,"y":1770},{"x":60.8,"y":1600},{"x":60.96,"y":1472},{"x":61.15,"y":1550},{"x":61.3,"y":2100},{"x":61.4,"y":3200},{"x":61.48,"y":3700},{"x":61.56,"y":3100},{"x":61.64,"y":2100},{"x":61.72,"y":2150},{"x":61.77,"y":2150},{"x":61.9,"y":1900},{"x":62.05,"y":1700},{"x":62.15,"y":1650},{"x":62.3,"y":1560},{"x":62.44,"y":1505},{"x":62.6,"y":1560},{"x":62.82,"y":1605},{"x":63,"y":1700},{"x":63.12,"y":2300},{"x":63.22,"y":3100},{"x":63.3,"y":3425},{"x":63.38,"y":3100},{"x":63.5,"y":2200},{"x":63.69,"y":1690},{"x":63.85,"y":1520},{"x":64.07,"y":1440},{"x":64.3,"y":1500},{"x":64.55,"y":1700},{"x":64.69,"y":1886},{"x":64.8,"y":1700},{"x":65.03,"y":1390},{"x":65.26,"y":1530},{"x":65.45,"y":1450},{"x":65.71,"y":1405},{"x":65.95,"y":1550},{"x":66.19,"y":1787},{"x":66.3,"y":1650},{"x":66.47,"y":1540},{"x":66.65,"y":1700},{"x":66.8,"y":2000},{"x":66.96,"y":2300},{"x":67.1,"y":2150},{"x":67.34,"y":1900},{"x":67.5,"y":1650},{"x":67.63,"y":1505},{"x":68.11,"y":1422},{"x":68.4,"y":1522},{"x":68.6,"y":1450},{"x":68.78,"y":1422},{"x":69.05,"y":1500},{"x":69.26,"y":1638},{"x":69.45,"y":1550},{"x":69.65,"y":1520},{"x":70,"y":1470},{"x":70.42,"y":1422},{"x":70.8,"y":1500},{"x":71,"y":1600},{"x":71.18,"y":1704},{"x":71.35,"y":1650},{"x":71.57,"y":1605},{"x":71.85,"y":1620},{"x":72.15,"y":1655},{"x":72.45,"y":1720},{"x":72.72,"y":1787},{"x":72.9,"y":1850},{"x":73.11,"y":1950},{"x":73.25,"y":2150},{"x":73.36,"y":2280},{"x":73.48,"y":2050},{"x":73.6,"y":1750},{"x":73.68,"y":1670},{"x":73.8,"y":1750},{"x":73.97,"y":1950},{"x":74.15,"y":2350},{"x":74.3,"y":2730},{"x":74.42,"y":2400},{"x":74.55,"y":2020},{"x":74.65,"y":1700},{"x":74.74,"y":1455},{"x":75,"y":1430},{"x":75.3,"y":1420},{"x":75.6,"y":1422},{"x":76,"y":1400},{"x":76.5,"y":1420},{"x":76.8,"y":1450},{"x":76.95,"y":1505},{"x":77.1,"y":1420},{"x":77.34,"y":1356},{"x":77.7,"y":1450},{"x":77.95,"y":1600},{"x":78.1,"y":1694},{"x":78.25,"y":1600},{"x":78.39,"y":1555},{"x":78.6,"y":1650},{"x":78.75,"y":1800},{"x":78.87,"y":1886},{"x":79,"y":1750},{"x":79.26,"y":1540},{"x":79.45,"y":1550},{"x":79.6,"y":1650},{"x":79.7,"y":1704},{"x":79.85,"y":1560},{"x":80,"y":1522}],
"diff":[{"x":6,"y":-560},{"x":6.1,"y":-640},{"x":6.2,"y":-600},{"x":6.35,"y":-690},{"x":6.5,"y":-630},{"x":6.65,"y":-670},{"x":6.8,"y":-610},{"x":6.95,"y":-680},{"x":7.1,"y":-640},{"x":7.25,"y":-700},{"x":7.4,"y":-620},{"x":7.55,"y":-665},{"x":7.7,"y":-600},{"x":7.85,"y":-690},{"x":8,"y":-640},{"x":8.15,"y":-710},{"x":8.3,"y":-630},{"x":8.45,"y":-670},{"x":8.6,"y":-600},{"x":8.75,"y":-680},{"x":8.9,"y":-620},{"x":9.05,"y":-700},{"x":9.2,"y":-650},{"x":9.35,"y":-610},{"x":9.5,"y":-690},{"x":9.65,"y":-630},{"x":9.8,"y":-680},{"x":9.95,"y":-600},{"x":10.1,"y":-660},{"x":10.25,"y":-620},{"x":10.4,"y":-700},{"x":10.55,"y":-640},{"x":10.7,"y":-590},{"x":10.85,"y":-670},{"x":11,"y":-620},{"x":11.15,"y":-690},{"x":11.3,"y":-640},{"x":11.45,"y":-600},{"x":11.6,"y":-680},{"x":11.75,"y":-610},{"x":11.9,"y":-660},{"x":12.05,"y":-590},{"x":12.2,"y":-650},{"x":12.35,"y":-600},{"x":12.5,"y":-670},{"x":12.65,"y":-580},{"x":12.8,"y":-640},{"x":12.95,"y":-600},{"x":13.1,"y":-660},{"x":13.25,"y":-590},{"x":13.4,"y":-640},{"x":13.55,"y":-600},{"x":13.7,"y":-680},{"x":13.8,"y":-620},{"x":13.9,"y":-700},{"x":13.98,"y":-580},{"x":14.05,"y":-450},{"x":14.1,"y":-230},{"x":14.14,"y":-400},{"x":14.18,"y":-740},{"x":14.24,"y":-860},{"x":14.3,"y":-700},{"x":14.38,"y":-830},{"x":14.46,"y":-640},{"x":14.55,"y":-600},{"x":14.7,"y":-660},{"x":14.85,"y":-600},{"x":15,"y":-670},{"x":15.15,"y":-620},{"x":15.3,"y":-690},{"x":15.45,"y":-630},{"x":15.6,"y":-600},{"x":15.75,"y":-660},{"x":15.9,"y":-610},{"x":16.05,"y":-690},{"x":16.2,"y":-630},{"x":16.35,"y":-670},{"x":16.5,"y":-610},{"x":16.65,"y":-680},{"x":16.8,"y":-640},{"x":16.95,"y":-600},{"x":17.1,"y":-760},{"x":17.25,"y":-650},{"x":17.4,"y":-600},{"x":17.55,"y":-670},{"x":17.7,"y":-620},{"x":17.85,"y":-690},{"x":18,"y":-640},{"x":18.15,"y":-600},{"x":18.3,"y":-680},{"x":18.45,"y":-620},{"x":18.6,"y":-660},{"x":18.75,"y":-600},{"x":18.9,"y":-690},{"x":19.05,"y":-640},{"x":19.2,"y":-700},{"x":19.35,"y":-620},{"x":19.5,"y":-680},{"x":19.65,"y":-630},{"x":19.8,"y":-690},{"x":19.95,"y":-620},{"x":20.1,"y":-560},{"x":20.17,"y":-450},{"x":20.22,"y":-760},{"x":20.28,"y":-800},{"x":20.35,"y":-640},{"x":20.45,"y":-700},{"x":20.6,"y":-760},{"x":20.75,"y":-640},{"x":20.9,"y":-690},{"x":21.05,"y":-600},{"x":21.2,"y":-650},{"x":21.32,"y":-560},{"x":21.45,"y":-680},{"x":21.6,"y":-620},{"x":21.75,"y":-700},{"x":21.9,"y":-630},{"x":22.05,"y":-680},{"x":22.2,"y":-610},{"x":22.35,"y":-580},{"x":22.5,"y":-690},{"x":22.65,"y":-620},{"x":22.8,"y":-580},{"x":22.95,"y":-670},{"x":23.1,"y":-600},{"x":23.25,"y":-690},{"x":23.4,"y":-630},{"x":23.55,"y":-700},{"x":23.7,"y":-640},{"x":23.85,"y":-600},{"x":24,"y":-680},{"x":24.15,"y":-620},{"x":24.3,"y":-560},{"x":24.45,"y":-740},{"x":24.6,"y":-640},{"x":24.75,"y":-600},{"x":24.9,"y":-690},{"x":25.05,"y":-620},{"x":25.2,"y":-680},{"x":25.35,"y":-610},{"x":25.5,"y":-670},{"x":25.65,"y":-600},{"x":25.8,"y":-690},{"x":25.95,"y":-620},{"x":26.1,"y":-680},{"x":26.25,"y":-600},{"x":26.4,"y":-560},{"x":26.5,"y":-640},{"x":26.58,"y":-420},{"x":26.64,"y":-330},{"x":26.7,"y":-500},{"x":26.78,"y":-780},{"x":26.86,"y":-650},{"x":26.95,"y":-560},{"x":27.05,"y":-690},{"x":27.2,"y":-620},{"x":27.35,"y":-680},{"x":27.5,"y":-600},{"x":27.65,"y":-640},{"x":27.78,"y":-570},{"x":27.9,"y":-700},{"x":28.05,"y":-620},{"x":28.2,"y":-550},{"x":28.35,"y":-660},{"x":28.5,"y":-600},{"x":28.65,"y":-680},{"x":28.8,"y":-620},{"x":28.95,"y":-700},{"x":29.1,"y":-630},{"x":29.25,"y":-690},{"x":29.4,"y":-560},{"x":29.5,"y":-520},{"x":29.58,"y":-440},{"x":29.65,"y":-600},{"x":29.72,"y":-900},{"x":29.8,"y":-700},{"x":29.9,"y":-620},{"x":30.05,"y":-680},{"x":30.2,"y":-640},{"x":30.35,"y":-700},{"x":30.5,"y":-620},{"x":30.65,"y":-670},{"x":30.8,"y":-600},{"x":30.95,"y":-690},{"x":31.05,"y":-620},{"x":31.15,"y":-680},{"x":31.3,"y":-610},{"x":31.45,"y":-690},{"x":31.6,"y":-640},{"x":31.75,"y":-680},{"x":31.9,"y":-610},{"x":32.05,"y":-660},{"x":32.2,"y":-600},{"x":32.35,"y":-690},{"x":32.5,"y":-630},{"x":32.65,"y":-700},{"x":32.8,"y":-640},{"x":32.95,"y":-600},{"x":33.1,"y":-670},{"x":33.25,"y":-620},{"x":33.4,"y":-690},{"x":33.55,"y":-640},{"x":33.7,"y":-600},{"x":33.85,"y":-680},{"x":34,"y":-620},{"x":34.15,"y":-670},{"x":34.3,"y":-600},{"x":34.45,"y":-640},{"x":34.6,"y":-580},{"x":34.72,"y":-530},{"x":34.8,"y":-400},{"x":34.84,"y":-240},{"x":34.88,"y":-560},{"x":34.94,"y":-780},{"x":35,"y":-620},{"x":35.1,"y":-640},{"x":35.2,"y":-580},{"x":35.3,"y":-520},{"x":35.4,"y":-380},{"x":35.48,"y":-560},{"x":35.56,"y":-700},{"x":35.65,"y":-660},{"x":35.75,"y":-760},{"x":35.85,"y":-650},{"x":35.95,"y":-700},{"x":36.05,"y":-620},{"x":36.15,"y":-690},{"x":36.25,"y":-640},{"x":36.35,"y":-700},{"x":36.45,"y":-600},{"x":36.55,"y":-660},{"x":36.7,"y":-540},{"x":36.8,"y":-500},{"x":36.9,"y":-600},{"x":37,"y":-480},{"x":37.08,"y":-700},{"x":37.18,"y":-560},{"x":37.3,"y":-640},{"x":37.45,"y":-680},{"x":37.55,"y":-720},{"x":37.62,"y":-790},{"x":37.68,"y":-110},{"x":37.72,"y":-270},{"x":37.78,"y":-400},{"x":37.86,"y":-350},{"x":37.92,"y":-700},{"x":37.97,"y":-950},{"x":38.01,"y":-800},{"x":38.06,"y":-500},{"x":38.12,"y":-720},{"x":38.2,"y":-650},{"x":38.3,"y":-760},{"x":38.42,"y":-640},{"x":38.55,"y":-690},{"x":38.7,"y":-620},{"x":38.85,"y":-660},{"x":39,"y":-600},{"x":39.15,"y":-650},{"x":39.3,"y":-620},{"x":39.45,"y":-660},{"x":39.55,"y":-560},{"x":39.7,"y":-640},{"x":39.85,"y":-600},{"x":40,"y":-560},{"x":40.15,"y":-600},{"x":40.3,"y":-580},{"x":40.45,"y":-520},{"x":40.6,"y":-560},{"x":40.72,"y":-480},{"x":40.82,"y":-540},{"x":40.9,"y":-450},{"x":41,"y":-600},{"x":41.1,"y":-520},{"x":41.2,"y":-560},{"x":41.3,"y":-460},{"x":41.4,"y":-520},{"x":41.5,"y":-560},{"x":41.6,"y":-600},{"x":41.66,"y":-380},{"x":41.7,"y":-15},{"x":41.74,"y":-700},{"x":41.78,"y":-1000},{"x":41.84,"y":-560},{"x":41.92,"y":-420},{"x":42,"y":-560},{"x":42.08,"y":-450},{"x":42.16,"y":-700},{"x":42.26,"y":-600},{"x":42.36,"y":-560},{"x":42.46,"y":-640},{"x":42.56,"y":-460},{"x":42.62,"y":-700},{"x":42.67,"y":-1120},{"x":42.72,"y":-780},{"x":42.8,"y":-560},{"x":42.88,"y":-640},{"x":43,"y":-560},{"x":43.12,"y":-700},{"x":43.25,"y":-620},{"x":43.4,"y":-680},{"x":43.55,"y":-600},{"x":43.7,"y":-660},{"x":43.85,"y":-620},{"x":43.95,"y":-780},{"x":44.08,"y":-560},{"x":44.2,"y":-640},{"x":44.35,"y":-600},{"x":44.5,"y":-660},{"x":44.65,"y":-620},{"x":44.76,"y":-560},{"x":44.88,"y":-700},{"x":45,"y":-640},{"x":45.15,"y":-680},{"x":45.3,"y":-600},{"x":45.4,"y":-450},{"x":45.48,"y":-700},{"x":45.58,"y":-650},{"x":45.7,"y":-600},{"x":45.82,"y":-700},{"x":45.95,"y":-640},{"x":46.1,"y":-680},{"x":46.25,"y":-600},{"x":46.35,"y":-560},{"x":46.42,"y":-960},{"x":46.5,"y":-640},{"x":46.6,"y":-560},{"x":46.7,"y":-700},{"x":46.82,"y":-540},{"x":46.92,"y":-660},{"x":47.05,"y":-600},{"x":47.2,"y":-680},{"x":47.35,"y":-620},{"x":47.5,"y":-700},{"x":47.65,"y":-640},{"x":47.8,"y":-600},{"x":47.95,"y":-680},{"x":48.1,"y":-620},{"x":48.25,"y":-690},{"x":48.4,"y":-640},{"x":48.55,"y":-600},{"x":48.7,"y":-660},{"x":48.85,"y":-560},{"x":48.95,"y":-700},{"x":49.1,"y":-640},{"x":49.25,"y":-680},{"x":49.4,"y":-620},{"x":49.55,"y":-700},{"x":49.7,"y":-620},{"x":49.85,"y":-660},{"x":49.98,"y":-600},{"x":50.1,"y":-540},{"x":50.18,"y":-480},{"x":50.24,"y":-720},{"x":50.28,"y":-910},{"x":50.34,"y":-700},{"x":50.42,"y":-560},{"x":50.5,"y":-650},{"x":50.65,"y":-700},{"x":50.8,"y":-620},{"x":50.95,"y":-680},{"x":51.1,"y":-620},{"x":51.25,"y":-580},{"x":51.4,"y":-660},{"x":51.55,"y":-620},{"x":51.7,"y":-690},{"x":51.85,"y":-640},{"x":52,"y":-600},{"x":52.15,"y":-700},{"x":52.3,"y":-640},{"x":52.45,"y":-680},{"x":52.6,"y":-610},{"x":52.75,"y":-660},{"x":52.9,"y":-620},{"x":53.05,"y":-690},{"x":53.2,"y":-640},{"x":53.3,"y":-560},{"x":53.38,"y":-740},{"x":53.48,"y":-620},{"x":53.6,"y":-680},{"x":53.75,"y":-620},{"x":53.9,"y":-660},{"x":54.05,"y":-600},{"x":54.2,"y":-680},{"x":54.35,"y":-620},{"x":54.5,"y":-660},{"x":54.65,"y":-600},{"x":54.8,"y":-520},{"x":54.9,"y":-420},{"x":54.98,"y":-600},{"x":55.08,"y":-560},{"x":55.2,"y":-640},{"x":55.35,"y":-680},{"x":55.5,"y":-620},{"x":55.65,"y":-700},{"x":55.8,"y":-640},{"x":55.95,"y":-720},{"x":56.1,"y":-660},{"x":56.25,"y":-620},{"x":56.4,"y":-680},{"x":56.55,"y":-620},{"x":56.7,"y":-660},{"x":56.85,"y":-600},{"x":57,"y":-680},{"x":57.15,"y":-640},{"x":57.3,"y":-700},{"x":57.45,"y":-640},{"x":57.6,"y":-680},{"x":57.75,"y":-620},{"x":57.9,"y":-670},{"x":58.05,"y":-610},{"x":58.2,"y":-660},{"x":58.35,"y":-600},{"x":58.5,"y":-560},{"x":58.65,"y":-620},{"x":58.8,"y":-580},{"x":58.95,"y":-640},{"x":59.1,"y":-590},{"x":59.25,"y":-650},{"x":59.4,"y":-600},{"x":59.55,"y":-680},{"x":59.7,"y":-620},{"x":59.85,"y":-600},{"x":60,"y":-560},{"x":60.15,"y":-600},{"x":60.3,"y":-540},{"x":60.45,"y":-580},{"x":60.6,"y":-520},{"x":60.75,"y":-560},{"x":60.9,"y":-600},{"x":61.05,"y":-640},{"x":61.2,"y":-680},{"x":61.3,"y":-600},{"x":61.38,"y":-400},{"x":61.44,"y":-350},{"x":61.5,"y":-720},{"x":61.56,"y":-950},{"x":61.64,"y":-760},{"x":61.72,"y":-600},{"x":61.8,"y":-520},{"x":61.9,"y":-620},{"x":62,"y":-560},{"x":62.15,"y":-620},{"x":62.3,"y":-580},{"x":62.45,"y":-640},{"x":62.6,"y":-600},{"x":62.75,"y":-640},{"x":62.9,"y":-560},{"x":63.05,"y":-600},{"x":63.15,"y":-520},{"x":63.22,"y":-420},{"x":63.3,"y":-700},{"x":63.36,"y":-830},{"x":63.44,"y":-700},{"x":63.55,"y":-620},{"x":63.7,"y":-680},{"x":63.85,"y":-620},{"x":64,"y":-680},{"x":64.15,"y":-620},{"x":64.3,"y":-660},{"x":64.45,"y":-600},{"x":64.6,"y":-560},{"x":64.7,"y":-640},{"x":64.8,"y":-700},{"x":64.95,"y":-620},{"x":65.1,"y":-680},{"x":65.25,"y":-600},{"x":65.4,"y":-650},{"x":65.55,"y":-600},{"x":65.7,"y":-660},{"x":65.85,"y":-610},{"x":66,"y":-680},{"x":66.15,"y":-620},{"x":66.3,"y":-680},{"x":66.45,"y":-620},{"x":66.6,"y":-660},{"x":66.75,"y":-600},{"x":66.85,"y":-760},{"x":66.95,"y":-860},{"x":67.05,"y":-700},{"x":67.2,"y":-640},{"x":67.35,"y":-600},{"x":67.5,"y":-660},{"x":67.65,"y":-620},{"x":67.8,"y":-680},{"x":67.95,"y":-640},{"x":68.1,"y":-700},{"x":68.25,"y":-620},{"x":68.4,"y":-660},{"x":68.55,"y":-600},{"x":68.7,"y":-650},{"x":68.85,"y":-610},{"x":69,"y":-670},{"x":69.15,"y":-620},{"x":69.3,"y":-580},{"x":69.45,"y":-640},{"x":69.6,"y":-600},{"x":69.75,"y":-560},{"x":69.9,"y":-600},{"x":70.05,"y":-560},{"x":70.2,"y":-600},{"x":70.35,"y":-550},{"x":70.5,"y":-600},{"x":70.65,"y":-560},{"x":70.8,"y":-620},{"x":70.95,"y":-560},{"x":71.1,"y":-620},{"x":71.25,"y":-580},{"x":71.4,"y":-640},{"x":71.55,"y":-700},{"x":71.7,"y":-640},{"x":71.85,"y":-600},{"x":72,"y":-660},{"x":72.15,"y":-590},{"x":72.3,"y":-540},{"x":72.45,"y":-580},{"x":72.6,"y":-530},{"x":72.75,"y":-600},{"x":72.9,"y":-560},{"x":73.05,"y":-620},{"x":73.2,"y":-580},{"x":73.3,"y":-520},{"x":73.38,"y":-700},{"x":73.48,"y":-640},{"x":73.6,"y":-600},{"x":73.75,"y":-660},{"x":73.9,"y":-600},{"x":74.05,"y":-640},{"x":74.15,"y":-560},{"x":74.25,"y":-530},{"x":74.32,"y":-910},{"x":74.4,"y":-760},{"x":74.5,"y":-640},{"x":74.62,"y":-560},{"x":74.75,"y":-680},{"x":74.9,"y":-620},{"x":75.05,"y":-660},{"x":75.2,"y":-600},{"x":75.35,"y":-640},{"x":75.5,"y":-590},{"x":75.65,"y":-660},{"x":75.8,"y":-620},{"x":75.95,"y":-680},{"x":76.1,"y":-620},{"x":76.25,"y":-660},{"x":76.4,"y":-600},{"x":76.55,"y":-650},{"x":76.7,"y":-600},{"x":76.85,"y":-660},{"x":77,"y":-620},{"x":77.15,"y":-680},{"x":77.3,"y":-620},{"x":77.45,"y":-600},{"x":77.6,"y":-650},{"x":77.75,"y":-600},{"x":77.9,"y":-660},{"x":78.05,"y":-610},{"x":78.2,"y":-670},{"x":78.35,"y":-620},{"x":78.5,"y":-660},{"x":78.65,"y":-600},{"x":78.8,"y":-560},{"x":78.95,"y":-680},{"x":79.1,"y":-620},{"x":79.25,"y":-700},{"x":79.4,"y":-640},{"x":79.55,"y":-600},{"x":79.7,"y":-680},{"x":79.85,"y":-620},{"x":80,"y":-660}],
"zero":[{"x":6,"y":-652},{"x":80,"y":-652}],
"other":[{"x":6,"y":0},{"x":22.4,"y":0},{"x":22.55,"y":150},{"x":22.69,"y":207},{"x":23.14,"y":205},{"x":24.1,"y":170},{"x":25.74,"y":130},{"x":27.37,"y":80},{"x":28.02,"y":115},{"x":28.3,"y":250},{"x":28.5,"y":420},{"x":28.64,"y":480},{"x":28.8,"y":380},{"x":29,"y":250},{"x":29.32,"y":60},{"x":30.1,"y":30},{"x":30.5,"y":0},{"x":80,"y":0}],
"comp":[
{"p":"Lizardite 2H hkl_Phase","x":9.7,"y":0},{"p":"Lizardite 2H hkl_Phase","x":10,"y":8},{"p":"Lizardite 2H hkl_Phase","x":12,"y":20},{"p":"Lizardite 2H hkl_Phase","x":12.8,"y":40},{"p":"Lizardite 2H hkl_Phase","x":13.3,"y":80},{"p":"Lizardite 2H hkl_Phase","x":13.6,"y":180},{"p":"Lizardite 2H hkl_Phase","x":13.8,"y":420},{"p":"Lizardite 2H hkl_Phase","x":13.92,"y":900},{"p":"Lizardite 2H hkl_Phase","x":14,"y":1500},{"p":"Lizardite 2H hkl_Phase","x":14.07,"y":2050},{"p":"Lizardite 2H hkl_Phase","x":14.14,"y":2254},{"p":"Lizardite 2H hkl_Phase","x":14.2,"y":2050},{"p":"Lizardite 2H hkl_Phase","x":14.27,"y":1500},{"p":"Lizardite 2H hkl_Phase","x":14.36,"y":900},{"p":"Lizardite 2H hkl_Phase","x":14.48,"y":420},{"p":"Lizardite 2H hkl_Phase","x":14.65,"y":180},{"p":"Lizardite 2H hkl_Phase","x":14.9,"y":80},{"p":"Lizardite 2H hkl_Phase","x":15.5,"y":30},{"p":"Lizardite 2H hkl_Phase","x":17,"y":15},{"p":"Lizardite 2H hkl_Phase","x":18.6,"y":5},{"p":"Lizardite 2H hkl_Phase","x":18.7,"y":0},{"p":"Lizardite 2H hkl_Phase","x":21.9,"y":0},{"p":"Lizardite 2H hkl_Phase","x":22.2,"y":120},{"p":"Lizardite 2H hkl_Phase","x":22.35,"y":270},{"p":"Lizardite 2H hkl_Phase","x":22.41,"y":286},{"p":"Lizardite 2H hkl_Phase","x":22.5,"y":220},{"p":"Lizardite 2H hkl_Phase","x":22.7,"y":60},{"p":"Lizardite 2H hkl_Phase","x":22.9,"y":0},{"p":"Lizardite 2H hkl_Phase","x":26.3,"y":0},{"p":"Lizardite 2H hkl_Phase","x":26.56,"y":70},{"p":"Lizardite 2H hkl_Phase","x":26.8,"y":0},{"p":"Lizardite 2H hkl_Phase","x":27.9,"y":0},{"p":"Lizardite 2H hkl_Phase","x":28.15,"y":150},{"p":"Lizardite 2H hkl_Phase","x":28.32,"y":420},{"p":"Lizardite 2H hkl_Phase","x":28.43,"y":510},{"p":"Lizardite 2H hkl_Phase","x":28.55,"y":400},{"p":"Lizardite 2H hkl_Phase","x":28.75,"y":120},{"p":"Lizardite 2H hkl_Phase","x":29.1,"y":0},{"p":"Lizardite 2H hkl_Phase","x":39,"y":0},{"p":"Lizardite 2H hkl_Phase","x":39.26,"y":100},{"p":"Lizardite 2H hkl_Phase","x":39.5,"y":20},{"p":"Lizardite 2H hkl_Phase","x":39.98,"y":140},{"p":"Lizardite 2H hkl_Phase","x":40.3,"y":0},{"p":"Lizardite 2H hkl_Phase","x":41.5,"y":0},{"p":"Lizardite 2H hkl_Phase","x":41.75,"y":350},{"p":"Lizardite 2H hkl_Phase","x":41.88,"y":650},{"p":"Lizardite 2H hkl_Phase","x":41.93,"y":688},{"p":"Lizardite 2H hkl_Phase","x":42.02,"y":560},{"p":"Lizardite 2H hkl_Phase","x":42.2,"y":200},{"p":"Lizardite 2H hkl_Phase","x":42.45,"y":40},{"p":"Lizardite 2H hkl_Phase","x":42.9,"y":30},{"p":"Lizardite 2H hkl_Phase","x":43.2,"y":248},{"p":"Lizardite 2H hkl_Phase","x":43.45,"y":40},{"p":"Lizardite 2H hkl_Phase","x":43.7,"y":0},{"p":"Lizardite 2H hkl_Phase","x":44.9,"y":0},{"p":"Lizardite 2H hkl_Phase","x":45.11,"y":30},{"p":"Lizardite 2H hkl_Phase","x":45.4,"y":0},{"p":"Lizardite 2H hkl_Phase","x":48.9,"y":0},{"p":"Lizardite 2H hkl_Phase","x":49.18,"y":128},{"p":"Lizardite 2H hkl_Phase","x":49.45,"y":0},{"p":"Lizardite 2H hkl_Phase","x":59.4,"y":0},{"p":"Lizardite 2H hkl_Phase","x":59.71,"y":55},{"p":"Lizardite 2H hkl_Phase","x":60,"y":0},{"p":"Lizardite 2H hkl_Phase","x":62,"y":0},{"p":"Lizardite 2H hkl_Phase","x":62.34,"y":120},{"p":"Lizardite 2H hkl_Phase","x":62.6,"y":20},{"p":"Lizardite 2H hkl_Phase","x":63.69,"y":112},{"p":"Lizardite 2H hkl_Phase","x":63.95,"y":0},{"p":"Lizardite 2H hkl_Phase","x":70.8,"y":0},{"p":"Lizardite 2H hkl_Phase","x":71,"y":180},{"p":"Lizardite 2H hkl_Phase","x":71.18,"y":297},{"p":"Lizardite 2H hkl_Phase","x":71.36,"y":170},{"p":"Lizardite 2H hkl_Phase","x":71.6,"y":0},{"p":"Lizardite 2H hkl_Phase","x":73.2,"y":0},{"p":"Lizardite 2H hkl_Phase","x":73.4,"y":65},{"p":"Lizardite 2H hkl_Phase","x":73.6,"y":0},{"p":"Lizardite 2H hkl_Phase","x":78.2,"y":0},{"p":"Lizardite 2H hkl_Phase","x":78.39,"y":30},{"p":"Lizardite 2H hkl_Phase","x":78.6,"y":0},
{"p":"Quartz","x":24.1,"y":0},{"p":"Quartz","x":24.33,"y":135},{"p":"Quartz","x":24.5,"y":0},{"p":"Quartz","x":30.9,"y":0},{"p":"Quartz","x":31.02,"y":300},{"p":"Quartz","x":31.11,"y":556},{"p":"Quartz","x":31.2,"y":300},{"p":"Quartz","x":31.35,"y":0},{"p":"Quartz","x":42.6,"y":0},{"p":"Quartz","x":42.75,"y":20},{"p":"Quartz","x":42.9,"y":0},
{"p":"Brucite","x":21.1,"y":0},{"p":"Brucite","x":21.25,"y":60},{"p":"Brucite","x":21.4,"y":0},{"p":"Brucite","x":43.4,"y":0},{"p":"Brucite","x":43.58,"y":50},{"p":"Brucite","x":43.75,"y":0},{"p":"Brucite","x":67.2,"y":0},{"p":"Brucite","x":67.4,"y":40},{"p":"Brucite","x":67.6,"y":0},
{"p":"Diopside","x":21.9,"y":0},{"p":"Diopside","x":22.09,"y":40},{"p":"Diopside","x":22.25,"y":0},{"p":"Diopside","x":23,"y":0},{"p":"Diopside","x":23.15,"y":90},{"p":"Diopside","x":23.3,"y":20},{"p":"Diopside","x":23.47,"y":50},{"p":"Diopside","x":23.62,"y":0},{"p":"Diopside","x":28.15,"y":0},{"p":"Diopside","x":28.3,"y":40},{"p":"Diopside","x":28.45,"y":0},{"p":"Diopside","x":30.9,"y":0},{"p":"Diopside","x":31.11,"y":284},{"p":"Diopside","x":31.3,"y":0},{"p":"Diopside","x":31.95,"y":0},{"p":"Diopside","x":32.1,"y":400},{"p":"Diopside","x":32.21,"y":770},{"p":"Diopside","x":32.32,"y":400},{"p":"Diopside","x":32.5,"y":0},{"p":"Diopside","x":34.5,"y":0},{"p":"Diopside","x":34.68,"y":800},{"p":"Diopside","x":34.77,"y":2200},{"p":"Diopside","x":34.83,"y":2970},{"p":"Diopside","x":34.89,"y":2200},{"p":"Diopside","x":34.98,"y":800},{"p":"Diopside","x":35.15,"y":150},{"p":"Diopside","x":35.3,"y":500},{"p":"Diopside","x":35.42,"y":818},{"p":"Diopside","x":35.52,"y":450},{"p":"Diopside","x":35.7,"y":100},{"p":"Diopside","x":35.95,"y":600},{"p":"Diopside","x":36.07,"y":1152},{"p":"Diopside","x":36.18,"y":600},{"p":"Diopside","x":36.4,"y":0},{"p":"Diopside","x":40.65,"y":0},{"p":"Diopside","x":40.8,"y":350},{"p":"Diopside","x":40.9,"y":683},{"p":"Diopside","x":41,"y":350},{"p":"Diopside","x":41.2,"y":200},{"p":"Diopside","x":41.4,"y":700},{"p":"Diopside","x":41.55,"y":1250},{"p":"Diopside","x":41.65,"y":900},{"p":"Diopside","x":41.75,"y":400},{"p":"Diopside","x":42,"y":0},{"p":"Diopside","x":44.3,"y":0},{"p":"Diopside","x":44.5,"y":150},{"p":"Diopside","x":44.7,"y":0},{"p":"Diopside","x":45.65,"y":0},{"p":"Diopside","x":45.87,"y":457},{"p":"Diopside","x":46.05,"y":0},{"p":"Diopside","x":47.5,"y":0},{"p":"Diopside","x":47.72,"y":240},{"p":"Diopside","x":47.9,"y":80},{"p":"Diopside","x":48.1,"y":250},{"p":"Diopside","x":48.3,"y":0},{"p":"Diopside","x":49.45,"y":0},{"p":"Diopside","x":49.66,"y":503},{"p":"Diopside","x":49.85,"y":0},{"p":"Diopside","x":50.1,"y":0},{"p":"Diopside","x":50.27,"y":230},{"p":"Diopside","x":50.45,"y":0},{"p":"Diopside","x":51.9,"y":0},{"p":"Diopside","x":52.07,"y":462},{"p":"Diopside","x":52.3,"y":80},{"p":"Diopside","x":52.73,"y":313},{"p":"Diopside","x":52.85,"y":120},{"p":"Diopside","x":53,"y":200},{"p":"Diopside","x":53.2,"y":0},{"p":"Diopside","x":53.9,"y":0},{"p":"Diopside","x":54.08,"y":190},{"p":"Diopside","x":54.3,"y":0},{"p":"Diopside","x":58.25,"y":0},{"p":"Diopside","x":58.46,"y":180},{"p":"Diopside","x":58.65,"y":0},{"p":"Diopside","x":61.25,"y":0},{"p":"Diopside","x":61.45,"y":300},{"p":"Diopside","x":61.6,"y":0},{"p":"Diopside","x":64.5,"y":0},{"p":"Diopside","x":64.69,"y":115},{"p":"Diopside","x":64.9,"y":0},{"p":"Diopside","x":65.05,"y":0},{"p":"Diopside","x":65.26,"y":130},{"p":"Diopside","x":65.45,"y":0},{"p":"Diopside","x":66.6,"y":0},{"p":"Diopside","x":66.78,"y":400},{"p":"Diopside","x":66.86,"y":628},{"p":"Diopside","x":66.95,"y":400},{"p":"Diopside","x":67.1,"y":0},{"p":"Diopside","x":71.4,"y":0},{"p":"Diopside","x":71.57,"y":120},{"p":"Diopside","x":71.8,"y":80},{"p":"Diopside","x":72,"y":130},{"p":"Diopside","x":72.2,"y":0},{"p":"Diopside","x":72.8,"y":0},{"p":"Diopside","x":73,"y":250},{"p":"Diopside","x":73.2,"y":0},{"p":"Diopside","x":77.9,"y":0},{"p":"Diopside","x":78.1,"y":330},{"p":"Diopside","x":78.3,"y":0},{"p":"Diopside","x":78.7,"y":0},{"p":"Diopside","x":78.87,"y":215},{"p":"Diopside","x":79.05,"y":0},
{"p":"Magnetite","x":21.15,"y":0},{"p":"Magnetite","x":21.3,"y":100},{"p":"Magnetite","x":21.36,"y":170},{"p":"Magnetite","x":21.45,"y":90},{"p":"Magnetite","x":21.6,"y":0},{"p":"Magnetite","x":34.95,"y":0},{"p":"Magnetite","x":35.1,"y":250},{"p":"Magnetite","x":35.16,"y":426},{"p":"Magnetite","x":35.25,"y":250},{"p":"Magnetite","x":35.45,"y":0},{"p":"Magnetite","x":41.1,"y":0},{"p":"Magnetite","x":41.3,"y":500},{"p":"Magnetite","x":41.42,"y":1300},{"p":"Magnetite","x":41.46,"y":1378},{"p":"Magnetite","x":41.52,"y":1000},{"p":"Magnetite","x":41.7,"y":300},{"p":"Magnetite","x":41.95,"y":0},{"p":"Magnetite","x":50.35,"y":0},{"p":"Magnetite","x":50.52,"y":330},{"p":"Magnetite","x":50.7,"y":0},{"p":"Magnetite","x":62.8,"y":0},{"p":"Magnetite","x":62.96,"y":97},{"p":"Magnetite","x":63.15,"y":0},{"p":"Magnetite","x":67.1,"y":0},{"p":"Magnetite","x":67.34,"y":303},{"p":"Magnetite","x":67.55,"y":0},{"p":"Magnetite","x":74,"y":0},{"p":"Magnetite","x":74.22,"y":410},{"p":"Magnetite","x":74.45,"y":0},
{"p":"Forsterite","x":19.9,"y":0},{"p":"Forsterite","x":20.05,"y":250},{"p":"Forsterite","x":20.14,"y":900},{"p":"Forsterite","x":20.19,"y":1190},{"p":"Forsterite","x":20.24,"y":900},{"p":"Forsterite","x":20.33,"y":250},{"p":"Forsterite","x":20.5,"y":0},{"p":"Forsterite","x":26.3,"y":0},{"p":"Forsterite","x":26.48,"y":500},{"p":"Forsterite","x":26.58,"y":2000},{"p":"Forsterite","x":26.64,"y":2640},{"p":"Forsterite","x":26.7,"y":2000},{"p":"Forsterite","x":26.8,"y":500},{"p":"Forsterite","x":26.98,"y":0},{"p":"Forsterite","x":27.55,"y":0},{"p":"Forsterite","x":27.7,"y":350},{"p":"Forsterite","x":27.78,"y":890},{"p":"Forsterite","x":27.86,"y":350},{"p":"Forsterite","x":28,"y":0},{"p":"Forsterite","x":29.35,"y":0},{"p":"Forsterite","x":29.52,"y":400},{"p":"Forsterite","x":29.62,"y":1000},{"p":"Forsterite","x":29.66,"y":1038},{"p":"Forsterite","x":29.72,"y":850},{"p":"Forsterite","x":29.82,"y":700},{"p":"Forsterite","x":29.95,"y":200},{"p":"Forsterite","x":30.1,"y":0},{"p":"Forsterite","x":34.45,"y":0},{"p":"Forsterite","x":34.6,"y":240},{"p":"Forsterite","x":34.8,"y":590},{"p":"Forsterite","x":34.95,"y":100},{"p":"Forsterite","x":35.1,"y":0},{"p":"Forsterite","x":37.35,"y":0},{"p":"Forsterite","x":37.55,"y":800},{"p":"Forsterite","x":37.64,"y":2300},{"p":"Forsterite","x":37.69,"y":2810},{"p":"Forsterite","x":37.74,"y":2300},{"p":"Forsterite","x":37.85,"y":700},{"p":"Forsterite","x":38,"y":0},{"p":"Forsterite","x":40.35,"y":0},{"p":"Forsterite","x":40.53,"y":40},{"p":"Forsterite","x":40.7,"y":0},{"p":"Forsterite","x":41.3,"y":0},{"p":"Forsterite","x":41.55,"y":900},{"p":"Forsterite","x":41.65,"y":2400},{"p":"Forsterite","x":41.7,"y":2935},{"p":"Forsterite","x":41.75,"y":2400},{"p":"Forsterite","x":41.88,"y":700},{"p":"Forsterite","x":42.1,"y":100},{"p":"Forsterite","x":42.4,"y":400},{"p":"Forsterite","x":42.56,"y":2800},{"p":"Forsterite","x":42.63,"y":3932},{"p":"Forsterite","x":42.7,"y":2800},{"p":"Forsterite","x":42.85,"y":600},{"p":"Forsterite","x":43.05,"y":0},{"p":"Forsterite","x":44.55,"y":0},{"p":"Forsterite","x":44.7,"y":300},{"p":"Forsterite","x":44.77,"y":438},{"p":"Forsterite","x":44.85,"y":300},{"p":"Forsterite","x":45,"y":0},{"p":"Forsterite","x":45.2,"y":0},{"p":"Forsterite","x":45.36,"y":300},{"p":"Forsterite","x":45.5,"y":0},{"p":"Forsterite","x":46.15,"y":0},{"p":"Forsterite","x":46.3,"y":700},{"p":"Forsterite","x":46.38,"y":1450},{"p":"Forsterite","x":46.42,"y":1654},{"p":"Forsterite","x":46.47,"y":1400},{"p":"Forsterite","x":46.58,"y":600},{"p":"Forsterite","x":46.7,"y":500},{"p":"Forsterite","x":46.8,"y":1000},{"p":"Forsterite","x":46.84,"y":1131},{"p":"Forsterite","x":46.9,"y":800},{"p":"Forsterite","x":47.05,"y":0},{"p":"Forsterite","x":48.7,"y":0},{"p":"Forsterite","x":48.85,"y":500},{"p":"Forsterite","x":48.9,"y":644},{"p":"Forsterite","x":48.98,"y":400},{"p":"Forsterite","x":49.15,"y":0},{"p":"Forsterite","x":50,"y":0},{"p":"Forsterite","x":50.22,"y":300},{"p":"Forsterite","x":50.4,"y":0},{"p":"Forsterite","x":52,"y":0},{"p":"Forsterite","x":52.24,"y":250},{"p":"Forsterite","x":52.45,"y":0},{"p":"Forsterite","x":54.45,"y":0},{"p":"Forsterite","x":54.64,"y":160},{"p":"Forsterite","x":54.85,"y":0},{"p":"Forsterite","x":56.65,"y":0},{"p":"Forsterite","x":56.86,"y":214},{"p":"Forsterite","x":57.05,"y":0},{"p":"Forsterite","x":58.95,"y":0},{"p":"Forsterite","x":59.17,"y":120},{"p":"Forsterite","x":59.35,"y":0},{"p":"Forsterite","x":59.7,"y":0},{"p":"Forsterite","x":59.88,"y":120},{"p":"Forsterite","x":60.05,"y":0},{"p":"Forsterite","x":61.2,"y":0},{"p":"Forsterite","x":61.35,"y":800},{"p":"Forsterite","x":61.44,"y":1900},{"p":"Forsterite","x":61.48,"y":2058},{"p":"Forsterite","x":61.54,"y":1600},{"p":"Forsterite","x":61.65,"y":800},{"p":"Forsterite","x":61.77,"y":694},{"p":"Forsterite","x":61.9,"y":350},{"p":"Forsterite","x":62.15,"y":280},{"p":"Forsterite","x":62.3,"y":0},{"p":"Forsterite","x":63.15,"y":0},{"p":"Forsterite","x":63.3,"y":65},{"p":"Forsterite","x":63.45,"y":0},{"p":"Forsterite","x":64.45,"y":0},{"p":"Forsterite","x":64.62,"y":330},{"p":"Forsterite","x":64.69,"y":402},{"p":"Forsterite","x":64.78,"y":300},{"p":"Forsterite","x":64.95,"y":0},{"p":"Forsterite","x":65.95,"y":0},{"p":"Forsterite","x":66.12,"y":330},{"p":"Forsterite","x":66.19,"y":396},{"p":"Forsterite","x":66.28,"y":300},{"p":"Forsterite","x":66.45,"y":0},{"p":"Forsterite","x":66.8,"y":0},{"p":"Forsterite","x":66.98,"y":460},{"p":"Forsterite","x":67.05,"y":535},{"p":"Forsterite","x":67.15,"y":400},{"p":"Forsterite","x":67.35,"y":0},{"p":"Forsterite","x":68.2,"y":0},{"p":"Forsterite","x":68.44,"y":130},{"p":"Forsterite","x":68.6,"y":0},{"p":"Forsterite","x":69.05,"y":0},{"p":"Forsterite","x":69.28,"y":265},{"p":"Forsterite","x":69.5,"y":0},{"p":"Forsterite","x":71.1,"y":0},{"p":"Forsterite","x":71.32,"y":120},{"p":"Forsterite","x":71.5,"y":60},{"p":"Forsterite","x":72.25,"y":140},{"p":"Forsterite","x":72.5,"y":180},{"p":"Forsterite","x":72.7,"y":100},{"p":"Forsterite","x":72.9,"y":200},{"p":"Forsterite","x":73.15,"y":450},{"p":"Forsterite","x":73.3,"y":760},{"p":"Forsterite","x":73.36,"y":800},{"p":"Forsterite","x":73.45,"y":600},{"p":"Forsterite","x":73.6,"y":300},{"p":"Forsterite","x":73.8,"y":400},{"p":"Forsterite","x":74.1,"y":700},{"p":"Forsterite","x":74.25,"y":960},{"p":"Forsterite","x":74.3,"y":992},{"p":"Forsterite","x":74.4,"y":700},{"p":"Forsterite","x":74.55,"y":470},{"p":"Forsterite","x":74.7,"y":150},{"p":"Forsterite","x":74.9,"y":0},{"p":"Forsterite","x":76.75,"y":0},{"p":"Forsterite","x":76.95,"y":120},{"p":"Forsterite","x":77.15,"y":0},{"p":"Forsterite","x":79.4,"y":0},{"p":"Forsterite","x":79.6,"y":300},{"p":"Forsterite","x":79.7,"y":362},{"p":"Forsterite","x":79.8,"y":280},{"p":"Forsterite","x":79.95,"y":150},{"p":"Forsterite","x":80,"y":120},
{"p":"Halite","x":31.8,"y":0},{"p":"Halite","x":31.94,"y":210},{"p":"Halite","x":32.1,"y":0},{"p":"Halite","x":36.7,"y":0},{"p":"Halite","x":36.88,"y":600},{"p":"Halite","x":36.98,"y":1800},{"p":"Halite","x":37.03,"y":2022},{"p":"Halite","x":37.08,"y":1800},{"p":"Halite","x":37.18,"y":600},{"p":"Halite","x":37.35,"y":0},{"p":"Halite","x":53.15,"y":0},{"p":"Halite","x":53.3,"y":700},{"p":"Halite","x":53.37,"y":1051},{"p":"Halite","x":53.44,"y":700},{"p":"Halite","x":53.6,"y":0},{"p":"Halite","x":66.55,"y":0},{"p":"Halite","x":66.72,"y":263},{"p":"Halite","x":66.9,"y":0},{"p":"Halite","x":78.6,"y":0},{"p":"Halite","x":78.76,"y":50},{"p":"Halite","x":78.9,"y":0},
{"p":"Troilite 2H","x":34.8,"y":0},{"p":"Troilite 2H","x":34.99,"y":128},{"p":"Troilite 2H","x":35.2,"y":0},{"p":"Troilite 2H","x":39.35,"y":0},{"p":"Troilite 2H","x":39.57,"y":183},{"p":"Troilite 2H","x":39.8,"y":0},{"p":"Troilite 2H","x":51.05,"y":0},{"p":"Troilite 2H","x":51.25,"y":314},{"p":"Troilite 2H","x":51.45,"y":0},{"p":"Troilite 2H","x":55.35,"y":0},{"p":"Troilite 2H","x":55.52,"y":30},{"p":"Troilite 2H","x":55.7,"y":0},{"p":"Troilite 2H","x":62.55,"y":0},{"p":"Troilite 2H","x":62.73,"y":100},{"p":"Troilite 2H","x":62.9,"y":0},
{"p":"Magnesite","x":37.6,"y":0},{"p":"Magnesite","x":37.8,"y":400},{"p":"Magnesite","x":37.9,"y":1500},{"p":"Magnesite","x":37.96,"y":4500},{"p":"Magnesite","x":38,"y":7000},{"p":"Magnesite","x":38.03,"y":7340},{"p":"Magnesite","x":38.07,"y":6800},{"p":"Magnesite","x":38.11,"y":4000},{"p":"Magnesite","x":38.18,"y":1300},{"p":"Magnesite","x":38.3,"y":400},{"p":"Magnesite","x":38.5,"y":100},{"p":"Magnesite","x":38.8,"y":0},{"p":"Magnesite","x":45.2,"y":0},{"p":"Magnesite","x":45.4,"y":357},{"p":"Magnesite","x":45.6,"y":0},{"p":"Magnesite","x":49.9,"y":0},{"p":"Magnesite","x":50.05,"y":400},{"p":"Magnesite","x":50.15,"y":1400},{"p":"Magnesite","x":50.22,"y":2800},{"p":"Magnesite","x":50.27,"y":3100},{"p":"Magnesite","x":50.32,"y":2700},{"p":"Magnesite","x":50.4,"y":1200},{"p":"Magnesite","x":50.55,"y":300},{"p":"Magnesite","x":50.8,"y":0},{"p":"Magnesite","x":54.7,"y":0},{"p":"Magnesite","x":54.82,"y":400},{"p":"Magnesite","x":54.9,"y":770},{"p":"Magnesite","x":54.98,"y":400},{"p":"Magnesite","x":55.15,"y":0},{"p":"Magnesite","x":60.5,"y":0},{"p":"Magnesite","x":60.67,"y":263},{"p":"Magnesite","x":60.85,"y":0},{"p":"Magnesite","x":62.95,"y":0},{"p":"Magnesite","x":63.1,"y":500},{"p":"Magnesite","x":63.22,"y":1600},{"p":"Magnesite","x":63.3,"y":1978},{"p":"Magnesite","x":63.38,"y":1500},{"p":"Magnesite","x":63.5,"y":500},{"p":"Magnesite","x":63.7,"y":0},{"p":"Magnesite","x":72.45,"y":0},{"p":"Magnesite","x":72.63,"y":215},{"p":"Magnesite","x":72.8,"y":0},{"p":"Magnesite","x":73.7,"y":0},{"p":"Magnesite","x":73.88,"y":343},{"p":"Magnesite","x":74.05,"y":0},{"p":"Magnesite","x":78.7,"y":0},{"p":"Magnesite","x":78.87,"y":272},{"p":"Magnesite","x":79.05,"y":0}],
"ticks":[
{"p":"Lizardite 2H hkl_Phase","x":14.06},{"p":"Lizardite 2H hkl_Phase","x":22.36},{"p":"Lizardite 2H hkl_Phase","x":26.5},{"p":"Lizardite 2H hkl_Phase","x":28.35},{"p":"Lizardite 2H hkl_Phase","x":36.38},{"p":"Lizardite 2H hkl_Phase","x":39.25},{"p":"Lizardite 2H hkl_Phase","x":39.89},{"p":"Lizardite 2H hkl_Phase","x":41.85},{"p":"Lizardite 2H hkl_Phase","x":43.14},{"p":"Lizardite 2H hkl_Phase","x":45},{"p":"Lizardite 2H hkl_Phase","x":45.61},{"p":"Lizardite 2H hkl_Phase","x":48.01},{"p":"Lizardite 2H hkl_Phase","x":49.12},{"p":"Lizardite 2H hkl_Phase","x":54.05},{"p":"Lizardite 2H hkl_Phase","x":54.63},{"p":"Lizardite 2H hkl_Phase","x":58.68},{"p":"Lizardite 2H hkl_Phase","x":59.74},{"p":"Lizardite 2H hkl_Phase","x":61.73},{"p":"Lizardite 2H hkl_Phase","x":62.23},{"p":"Lizardite 2H hkl_Phase","x":63.63},{"p":"Lizardite 2H hkl_Phase","x":64.61},{"p":"Lizardite 2H hkl_Phase","x":66.03},{"p":"Lizardite 2H hkl_Phase","x":69.31},{"p":"Lizardite 2H hkl_Phase","x":71.14},{"p":"Lizardite 2H hkl_Phase","x":72.93},{"p":"Lizardite 2H hkl_Phase","x":73.38},{"p":"Lizardite 2H hkl_Phase","x":75.57},{"p":"Lizardite 2H hkl_Phase","x":77.36},{"p":"Lizardite 2H hkl_Phase","x":78.29},{"p":"Lizardite 2H hkl_Phase","x":79.98},
{"p":"Quartz","x":24.28},{"p":"Quartz","x":31.02},{"p":"Quartz","x":42.74},{"p":"Quartz","x":46.13},{"p":"Quartz","x":47.19},{"p":"Quartz","x":49.75},{"p":"Quartz","x":53.77},{"p":"Quartz","x":58.98},{"p":"Quartz","x":59.45},{"p":"Quartz","x":64.74},{"p":"Quartz","x":65.17},{"p":"Quartz","x":67.68},{"p":"Quartz","x":71.03},{"p":"Quartz","x":75.98},{"p":"Quartz","x":78.29},
{"p":"Brucite","x":21.25},{"p":"Brucite","x":37.54},{"p":"Brucite","x":43.3},{"p":"Brucite","x":43.55},{"p":"Brucite","x":58.64},{"p":"Brucite","x":67.23},{"p":"Brucite","x":67.79},{"p":"Brucite","x":71.91},{"p":"Brucite","x":79.6},
{"p":"Diopside","x":15.92},{"p":"Diopside","x":22},{"p":"Diopside","x":23.13},{"p":"Diopside","x":23.42},{"p":"Diopside","x":28.29},{"p":"Diopside","x":31.02},{"p":"Diopside","x":32.13},{"p":"Diopside","x":34.8},{"p":"Diopside","x":35.32},{"p":"Diopside","x":36.02},{"p":"Diopside","x":36.81},{"p":"Diopside","x":40.79},{"p":"Diopside","x":41.33},{"p":"Diopside","x":41.47},{"p":"Diopside","x":41.58},{"p":"Diopside","x":43.98},{"p":"Diopside","x":44.95},{"p":"Diopside","x":45.79},{"p":"Diopside","x":47.31},{"p":"Diopside","x":47.42},{"p":"Diopside","x":47.67},{"p":"Diopside","x":47.92},{"p":"Diopside","x":48.05},{"p":"Diopside","x":49.12},{"p":"Diopside","x":49.59},{"p":"Diopside","x":50.27},{"p":"Diopside","x":51.11},{"p":"Diopside","x":52.01},{"p":"Diopside","x":52.69},{"p":"Diopside","x":52.78},{"p":"Diopside","x":52.98},{"p":"Diopside","x":54.05},{"p":"Diopside","x":54.57},{"p":"Diopside","x":56.33},{"p":"Diopside","x":57.55},{"p":"Diopside","x":58.27},{"p":"Diopside","x":58.43},{"p":"Diopside","x":58.61},{"p":"Diopside","x":58.98},{"p":"Diopside","x":59.2},{"p":"Diopside","x":59.65},{"p":"Diopside","x":60.63},{"p":"Diopside","x":61.37},{"p":"Diopside","x":62.66},{"p":"Diopside","x":63.05},{"p":"Diopside","x":64.25},{"p":"Diopside","x":64.56},{"p":"Diopside","x":64.65},{"p":"Diopside","x":65.22},{"p":"Diopside","x":66.53},{"p":"Diopside","x":66.57},{"p":"Diopside","x":66.82},{"p":"Diopside","x":66.87},{"p":"Diopside","x":67.25},{"p":"Diopside","x":68.41},{"p":"Diopside","x":68.74},{"p":"Diopside","x":69.2},{"p":"Diopside","x":69.94},{"p":"Diopside","x":70.03},{"p":"Diopside","x":70.58},{"p":"Diopside","x":71.01},{"p":"Diopside","x":71.62},{"p":"Diopside","x":71.8},{"p":"Diopside","x":72.05},{"p":"Diopside","x":72.68},{"p":"Diopside","x":73.04},{"p":"Diopside","x":73.31},{"p":"Diopside","x":73.49},{"p":"Diopside","x":73.79},{"p":"Diopside","x":74.17},{"p":"Diopside","x":74.65},{"p":"Diopside","x":74.8},{"p":"Diopside","x":75.14},{"p":"Diopside","x":75.62},{"p":"Diopside","x":76.18},{"p":"Diopside","x":76.41},{"p":"Diopside","x":76.84},{"p":"Diopside","x":77.65},{"p":"Diopside","x":77.72},{"p":"Diopside","x":78.04},{"p":"Diopside","x":78.31},{"p":"Diopside","x":78.85},{"p":"Diopside","x":78.97},{"p":"Diopside","x":79.6},{"p":"Diopside","x":79.76},
{"p":"Magnetite","x":21.25},{"p":"Magnetite","x":35.07},{"p":"Magnetite","x":41.38},{"p":"Magnetite","x":43.35},{"p":"Magnetite","x":50.47},{"p":"Magnetite","x":55.36},{"p":"Magnetite","x":62.96},{"p":"Magnetite","x":67.25},{"p":"Magnetite","x":74.15},{"p":"Magnetite","x":78.17},{"p":"Magnetite","x":79.53},
{"p":"Forsterite","x":20.12},{"p":"Forsterite","x":23.92},{"p":"Forsterite","x":26.57},{"p":"Forsterite","x":27.77},{"p":"Forsterite","x":29.55},{"p":"Forsterite","x":29.71},{"p":"Forsterite","x":34.55},{"p":"Forsterite","x":34.71},{"p":"Forsterite","x":37.65},{"p":"Forsterite","x":40.5},{"p":"Forsterite","x":40.93},{"p":"Forsterite","x":41.63},{"p":"Forsterite","x":42.62},{"p":"Forsterite","x":44.09},{"p":"Forsterite","x":44.68},{"p":"Forsterite","x":45.36},{"p":"Forsterite","x":46.38},{"p":"Forsterite","x":46.76},{"p":"Forsterite","x":48.89},{"p":"Forsterite","x":48.96},{"p":"Forsterite","x":50.22},{"p":"Forsterite","x":52.12},{"p":"Forsterite","x":52.24},{"p":"Forsterite","x":54.57},{"p":"Forsterite","x":54.75},{"p":"Forsterite","x":56.85},{"p":"Forsterite","x":57.32},{"p":"Forsterite","x":57.46},{"p":"Forsterite","x":57.6},{"p":"Forsterite","x":58.12},{"p":"Forsterite","x":58.39},{"p":"Forsterite","x":59.13},{"p":"Forsterite","x":59.56},{"p":"Forsterite","x":59.74},{"p":"Forsterite","x":61.42},{"p":"Forsterite","x":61.76},{"p":"Forsterite","x":62.14},{"p":"Forsterite","x":63.3},{"p":"Forsterite","x":64.65},{"p":"Forsterite","x":66.12},{"p":"Forsterite","x":66.3},{"p":"Forsterite","x":66.98},{"p":"Forsterite","x":67.75},{"p":"Forsterite","x":68.34},{"p":"Forsterite","x":69.24},{"p":"Forsterite","x":69.54},{"p":"Forsterite","x":70.42},{"p":"Forsterite","x":70.51},{"p":"Forsterite","x":71.32},{"p":"Forsterite","x":72.25},{"p":"Forsterite","x":72.36},{"p":"Forsterite","x":72.5},{"p":"Forsterite","x":72.86},{"p":"Forsterite","x":73.13},{"p":"Forsterite","x":73.34},{"p":"Forsterite","x":73.52},{"p":"Forsterite","x":73.79},{"p":"Forsterite","x":74.29},{"p":"Forsterite","x":75.01},{"p":"Forsterite","x":75.19},{"p":"Forsterite","x":76.89},{"p":"Forsterite","x":76.95},{"p":"Forsterite","x":78.38},{"p":"Forsterite","x":78.45},{"p":"Forsterite","x":79.51},{"p":"Forsterite","x":79.67},{"p":"Forsterite","x":80},
{"p":"Halite","x":31.88},{"p":"Halite","x":36.95},{"p":"Halite","x":53.32},{"p":"Halite","x":63.48},{"p":"Halite","x":66.64},{"p":"Halite","x":78.76},
{"p":"Troilite 2H","x":17.88},{"p":"Troilite 2H","x":19.94},{"p":"Troilite 2H","x":21.86},{"p":"Troilite 2H","x":26.91},{"p":"Troilite 2H","x":33.78},{"p":"Troilite 2H","x":34.93},{"p":"Troilite 2H","x":36.18},{"p":"Troilite 2H","x":39.5},{"p":"Troilite 2H","x":40.57},{"p":"Troilite 2H","x":41.65},{"p":"Troilite 2H","x":41.7},{"p":"Troilite 2H","x":44.66},{"p":"Troilite 2H","x":49.41},{"p":"Troilite 2H","x":50.34},{"p":"Troilite 2H","x":51.2},{"p":"Troilite 2H","x":54.61},{"p":"Troilite 2H","x":55.47},{"p":"Troilite 2H","x":55.58},{"p":"Troilite 2H","x":57.91},{"p":"Troilite 2H","x":59.65},{"p":"Troilite 2H","x":61.89},{"p":"Troilite 2H","x":62.68},{"p":"Troilite 2H","x":62.77},{"p":"Troilite 2H","x":63.48},{"p":"Troilite 2H","x":65.76},{"p":"Troilite 2H","x":67.25},{"p":"Troilite 2H","x":67.34},{"p":"Troilite 2H","x":69.47},{"p":"Troilite 2H","x":69.63},{"p":"Troilite 2H","x":71.03},{"p":"Troilite 2H","x":73.81},{"p":"Troilite 2H","x":73.88},{"p":"Troilite 2H","x":74.6},{"p":"Troilite 2H","x":76.66},{"p":"Troilite 2H","x":76.89},{"p":"Troilite 2H","x":77.36},{"p":"Troilite 2H","x":78.06},
{"p":"Magnesite","x":29.19},{"p":"Magnesite","x":37.99},{"p":"Magnesite","x":45.34},{"p":"Magnesite","x":50.27},{"p":"Magnesite","x":54.88},{"p":"Magnesite","x":60.58},{"p":"Magnesite","x":63.25},{"p":"Magnesite","x":63.32},{"p":"Magnesite","x":72.57},{"p":"Magnesite","x":73.83},{"p":"Magnesite","x":78.7},{"p":"Magnesite","x":78.83}]
},
"layer":[
{"encoding":{
"x":{"field":"x","type":"quantitative","scale":{"domain":[4.763,80.095],"nice":false,"zero":false},"axis":{"values":[5,10,15,20,25,30,35,40,45,50,55,60,65,70,75,80],"format":"d","title":"2Th Degrees","titleFontSize":33,"titlePadding":10,"labelFontSize":25,"labelPadding":6,"labelFlush":false,"labelOverlap":false,"tickSize":13,"tickWidth":3,"tickColor":"#000000","domainColor":"#000000","domainWidth":4}}},
"layer":[
{"encoding":{"color":{"field":"p","type":"nominal","scale":{"domain":["Lizardite 2H hkl_Phase","Quartz","Brucite","Diopside","Magnetite","Forsterite","Halite","Troilite 2H","Magnesite","0.00 %","0.73 %","0.35 %","20.86 %","4.25 %","38.31 %","2.55 %","1.18 %","31.77 %"],"range":["#ff8000","#008040","#ff00ff","#8000ff","#00ff00","#0080ff","#008080","#800000","#0000a0","#ff8000","#008040","#ff00ff","#8000ff","#00ff00","#0080ff","#008080","#800000","#0000a0"]},
"legend":{"orient":"none","legendX":2955,"legendY":23,"title":null,"columns":2,"columnPadding":0,"rowPadding":15,"symbolSize":0,"symbolStrokeWidth":0,"symbolOpacity":0,"labelOffset":0,"labelFontSize":26,"labelLimit":0,"padding":0,"labelColor":{"expr":"scale('color', datum.value)"}}}},
"layer":[
{"data":{"name":"comp"},"mark":{"type":"line","strokeWidth":2.5},"encoding":{"y":{"field":"y","type":"quantitative","scale":{"domain":[-2189,9854],"nice":false,"zero":false},"axis":{"values":[0,5000],"labelExpr":"format(datum.value, ',')","title":"Counts","titleFontSize":40,"titlePadding":10,"labelFontSize":25,"labelPadding":2,"tickSize":10,"tickWidth":3,"tickColor":"#000000","domainColor":"#000000","domainWidth":3}}}},
{"data":{"name":"ticks"},"transform":[{"filter":{"field":"p","equal":"Lizardite 2H hkl_Phase"}}],"mark":{"type":"tick","orient":"vertical","size":23,"thickness":2,"opacity":1},"encoding":{"y":{"datum":-1254,"type":"quantitative","scale":{"domain":[-2189,9854],"nice":false,"zero":false}}}},
{"data":{"name":"ticks"},"transform":[{"filter":{"field":"p","equal":"Quartz"}}],"mark":{"type":"tick","orient":"vertical","size":23,"thickness":2,"opacity":1},"encoding":{"y":{"datum":-1362,"type":"quantitative","scale":{"domain":[-2189,9854],"nice":false,"zero":false}}}},
{"data":{"name":"ticks"},"transform":[{"filter":{"field":"p","equal":"Brucite"}}],"mark":{"type":"tick","orient":"vertical","size":23,"thickness":2,"opacity":1},"encoding":{"y":{"datum":-1470,"type":"quantitative","scale":{"domain":[-2189,9854],"nice":false,"zero":false}}}},
{"data":{"name":"ticks"},"transform":[{"filter":{"field":"p","equal":"Diopside"}}],"mark":{"type":"tick","orient":"vertical","size":23,"thickness":2,"opacity":1},"encoding":{"y":{"datum":-1581,"type":"quantitative","scale":{"domain":[-2189,9854],"nice":false,"zero":false}}}},
{"data":{"name":"ticks"},"transform":[{"filter":{"field":"p","equal":"Magnetite"}}],"mark":{"type":"tick","orient":"vertical","size":23,"thickness":2,"opacity":1},"encoding":{"y":{"datum":-1692,"type":"quantitative","scale":{"domain":[-2189,9854],"nice":false,"zero":false}}}},
{"data":{"name":"ticks"},"transform":[{"filter":{"field":"p","equal":"Forsterite"}}],"mark":{"type":"tick","orient":"vertical","size":23,"thickness":2,"opacity":1},"encoding":{"y":{"datum":-1803,"type":"quantitative","scale":{"domain":[-2189,9854],"nice":false,"zero":false}}}},
{"data":{"name":"ticks"},"transform":[{"filter":{"field":"p","equal":"Halite"}}],"mark":{"type":"tick","orient":"vertical","size":23,"thickness":2,"opacity":1},"encoding":{"y":{"datum":-1911,"type":"quantitative","scale":{"domain":[-2189,9854],"nice":false,"zero":false}}}},
{"data":{"name":"ticks"},"transform":[{"filter":{"field":"p","equal":"Troilite 2H"}}],"mark":{"type":"tick","orient":"vertical","size":23,"thickness":2,"opacity":1},"encoding":{"y":{"datum":-2022,"type":"quantitative","scale":{"domain":[-2189,9854],"nice":false,"zero":false}}}},
{"data":{"name":"ticks"},"transform":[{"filter":{"field":"p","equal":"Magnesite"}}],"mark":{"type":"tick","orient":"vertical","size":23,"thickness":2,"opacity":1},"encoding":{"y":{"datum":-2132,"type":"quantitative","scale":{"domain":[-2189,9854],"nice":false,"zero":false}}}}
]},
{"data":{"name":"other"},"mark":{"type":"line","color":"#800080","strokeWidth":2.5},"encoding":{"y":{"field":"y","type":"quantitative","scale":{"domain":[-2189,9854],"nice":false,"zero":false}}}},
{"data":{"name":"obs"},"mark":{"type":"line","color":"#0000ff","strokeWidth":2.2},"encoding":{"y":{"field":"y","type":"quantitative","scale":{"domain":[-2189,9854],"nice":false,"zero":false}},"strokeDash":{"datum":"2AJ_04-25-AJ6-Product.raw_1","type":"nominal","scale":{"range":[[1,0]]},"legend":{"orient":"none","legendX":10,"legendY":20,"title":null,"symbolType":"stroke","symbolStrokeColor":"#0000ff","symbolStrokeWidth":3,"symbolSize":784,"labelOffset":4,"labelFontSize":26,"labelLimit":0,"padding":0}}}},
{"data":{"name":"calc"},"mark":{"type":"line","color":"#ff0000","strokeWidth":3},"encoding":{"y":{"field":"y","type":"quantitative","scale":{"domain":[-2189,9854],"nice":false,"zero":false}}}},
{"data":{"name":"diff"},"mark":{"type":"line","color":"#808080","strokeWidth":2},"encoding":{"y":{"field":"y","type":"quantitative","scale":{"domain":[-2189,9854],"nice":false,"zero":false}}}}
]},
{"data":{"name":"zero"},"mark":{"type":"line","color":"#808080","strokeWidth":2},
"encoding":{
"x":{"field":"x","type":"quantitative","scale":{"domain":[4.763,80.095],"nice":false,"zero":false},"axis":{"orient":"bottom","values":[6.25,7.5,8.75,11.25,12.5,13.75,16.25,17.5,18.75,21.25,22.5,23.75,26.25,27.5,28.75,31.25,32.5,33.75,36.25,37.5,38.75,41.25,42.5,43.75,46.25,47.5,48.75,51.25,52.5,53.75,56.25,57.5,58.75,61.25,62.5,63.75,66.25,67.5,68.75,71.25,72.5,73.75,76.25,77.5,78.75],"labels":false,"domain":false,"tickColor":"#808080","tickSize":9,"tickWidth":2,"title":null}},
"y":{"field":"y","type":"quantitative","scale":{"domain":[-2189,9854],"nice":false,"zero":false},"axis":{"orient":"left","values":[1250,2500,3750,6250,7500,8750],"labels":false,"domain":false,"tickColor":"#808080","tickSize":6,"tickWidth":2,"title":null}}}}
],
"resolve":{"scale":{"x":"independent","y":"independent"}}
}
